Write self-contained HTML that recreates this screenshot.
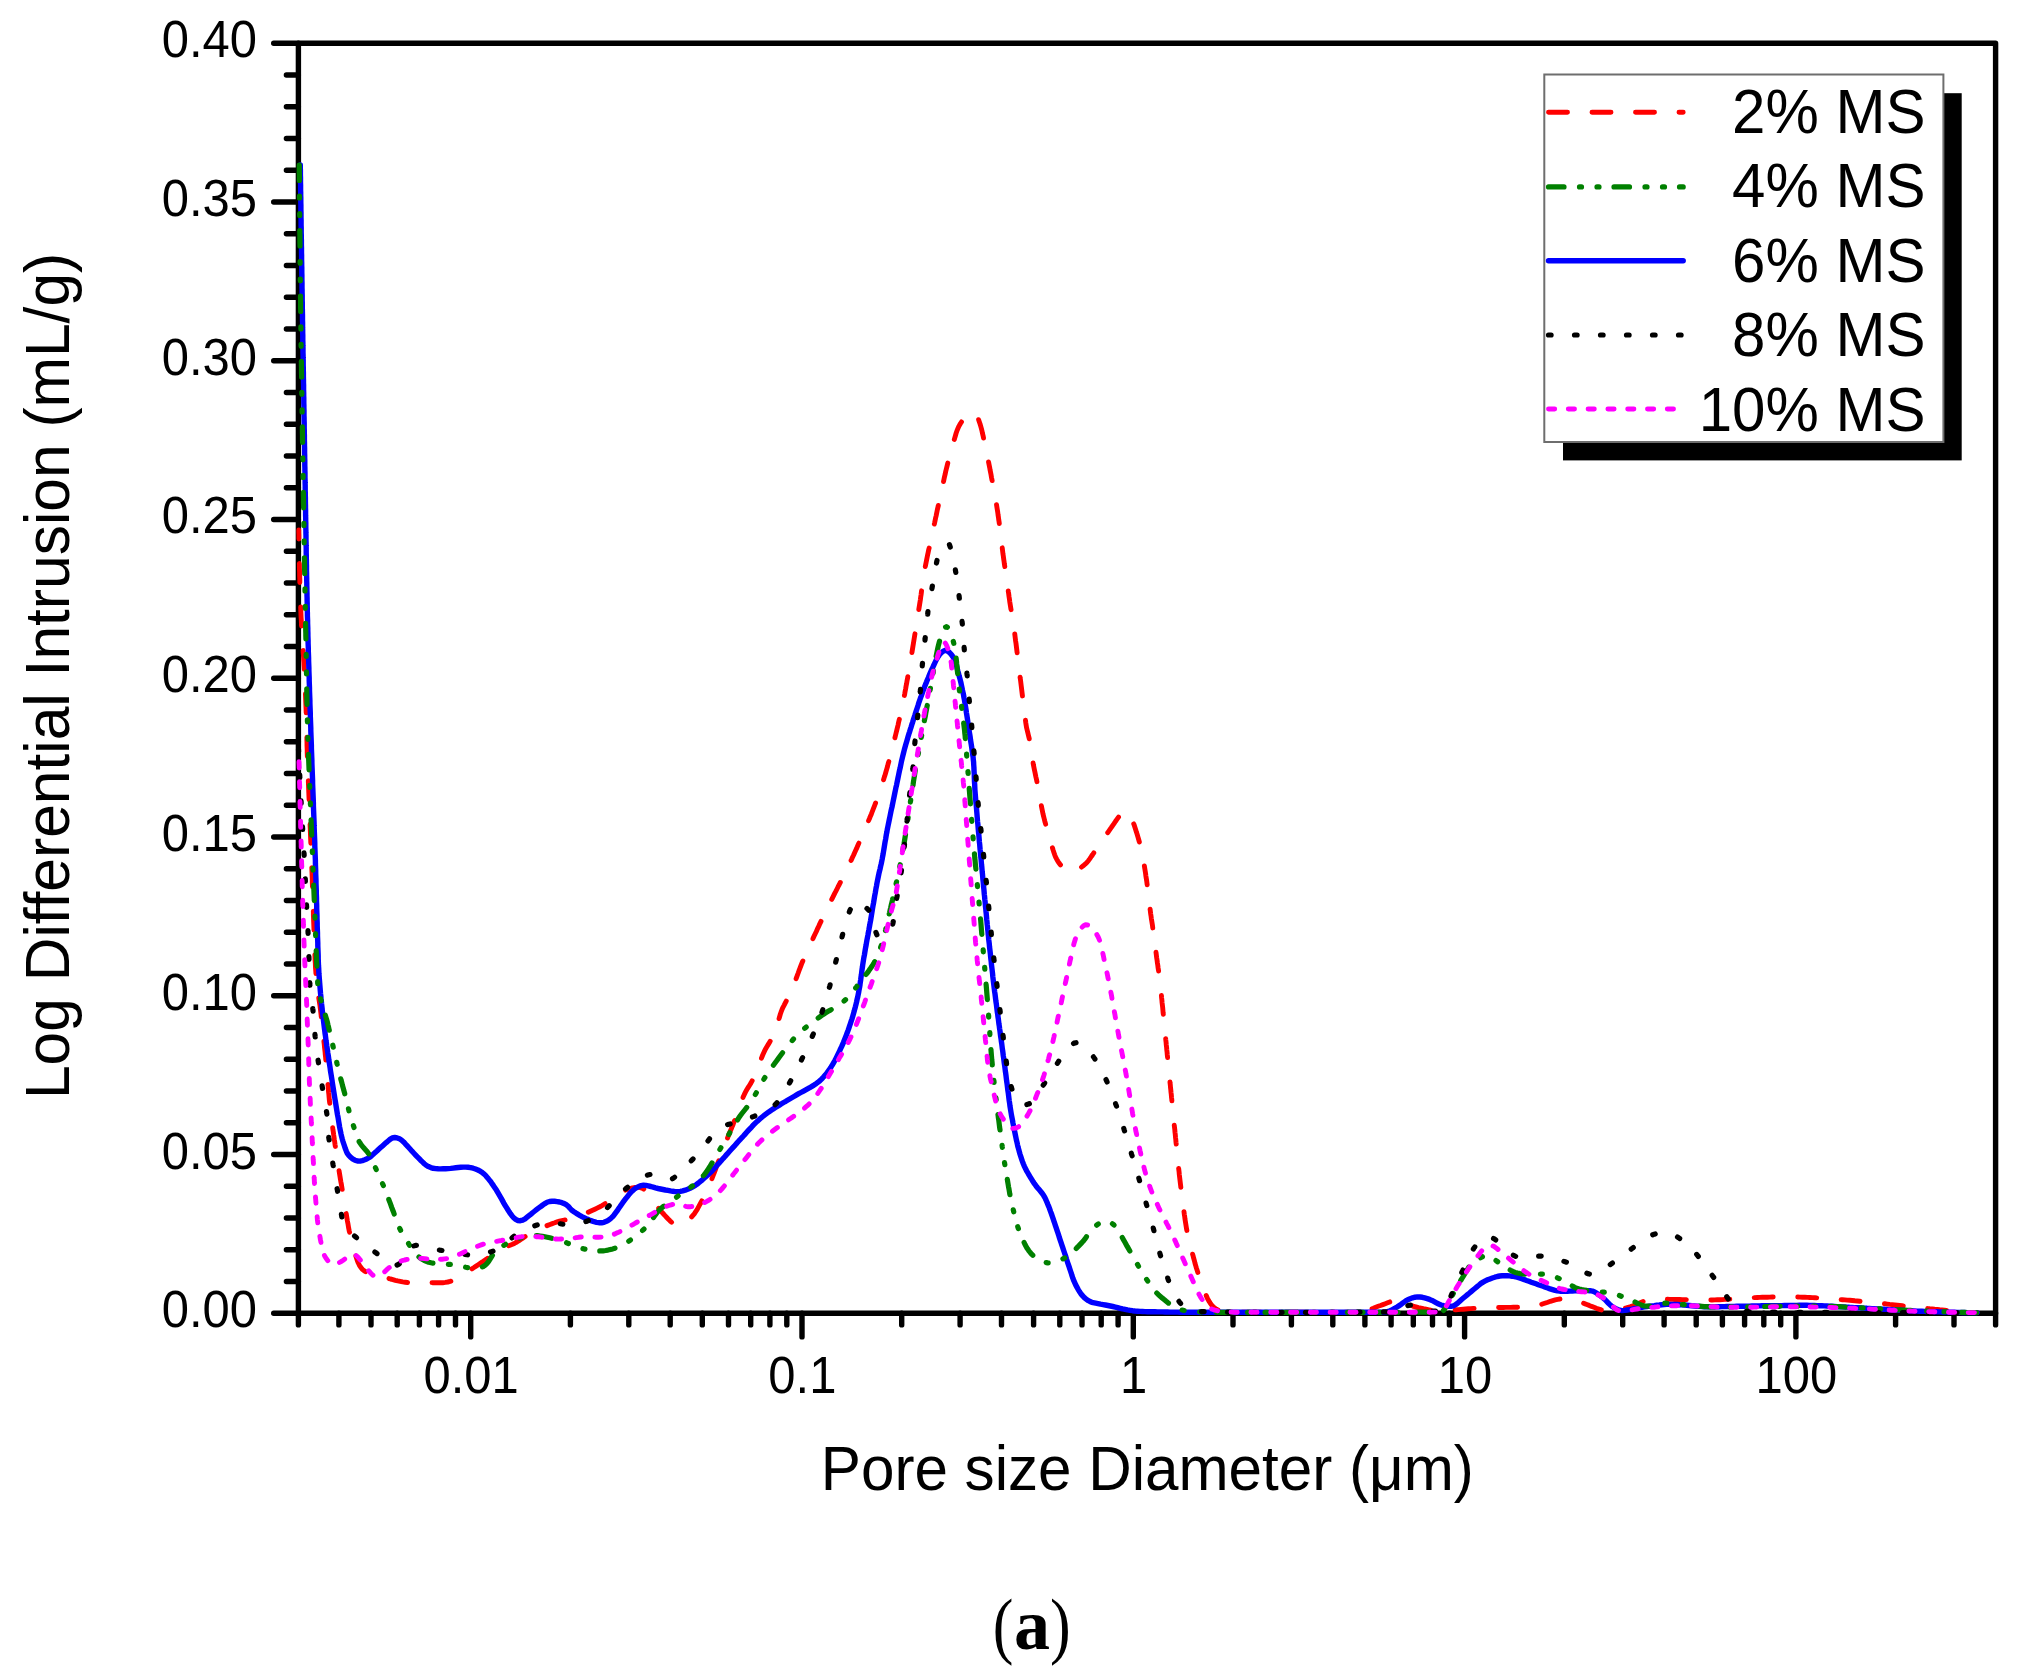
<!DOCTYPE html>
<html lang="en"><head><meta charset="utf-8"><title>Pore size distribution (a)</title>
<style>html,body{margin:0;padding:0;background:#fff}svg{display:block;filter:blur(0.55px)}text{font-family:"Liberation Sans", Arial, Helvetica, sans-serif;fill:#000}text.cap{font-family:"Liberation Serif", "Times New Roman", serif}.ax{stroke:#000;fill:none;stroke-linecap:round;stroke-linejoin:round}.cv{fill:none;stroke-linecap:round;stroke-linejoin:round}</style></head><body>
<svg width="2025" height="1677" viewBox="0 0 2025 1677">
<rect width="2025" height="1677" fill="#fff"/>
<g class="ax" stroke-width="5.4">
<path d="M298.4,43.25 H1995.6 V1313.3 H298.4 Z"/>
<path d="M273.7,1313.3H298.4M286.4,1281.5H298.4M286.4,1249.8H298.4M286.4,1218H298.4M286.4,1186.3H298.4M273.7,1154.5H298.4M286.4,1122.8H298.4M286.4,1091H298.4M286.4,1059.3H298.4M286.4,1027.5H298.4M273.7,995.8H298.4M286.4,964H298.4M286.4,932.3H298.4M286.4,900.5H298.4M286.4,868.8H298.4M273.7,837H298.4M286.4,805.3H298.4M286.4,773.5H298.4M286.4,741.8H298.4M286.4,710H298.4M273.7,678.3H298.4M286.4,646.5H298.4M286.4,614.8H298.4M286.4,583H298.4M286.4,551.3H298.4M273.7,519.5H298.4M286.4,487.8H298.4M286.4,456H298.4M286.4,424.3H298.4M286.4,392.5H298.4M273.7,360.8H298.4M286.4,329H298.4M286.4,297.3H298.4M286.4,265.5H298.4M286.4,233.8H298.4M273.7,202H298.4M286.4,170.3H298.4M286.4,138.5H298.4M286.4,106.8H298.4M286.4,75H298.4M273.7,43.2H298.4M298.4,1313.3V1324.9M338.9,1313.3V1324.9M371,1313.3V1324.9M397.2,1313.3V1324.9M419.4,1313.3V1324.9M438.6,1313.3V1324.9M455.5,1313.3V1324.9M470.7,1313.3V1336.9M570.4,1313.3V1324.9M628.8,1313.3V1324.9M670.2,1313.3V1324.9M702.3,1313.3V1324.9M728.5,1313.3V1324.9M750.7,1313.3V1324.9M769.9,1313.3V1324.9M786.8,1313.3V1324.9M802,1313.3V1336.9M901.7,1313.3V1324.9M960.1,1313.3V1324.9M1001.5,1313.3V1324.9M1033.6,1313.3V1324.9M1059.8,1313.3V1324.9M1082,1313.3V1324.9M1101.2,1313.3V1324.9M1118.1,1313.3V1324.9M1133.3,1313.3V1336.9M1233,1313.3V1324.9M1291.4,1313.3V1324.9M1332.8,1313.3V1324.9M1364.9,1313.3V1324.9M1391.1,1313.3V1324.9M1413.3,1313.3V1324.9M1432.5,1313.3V1324.9M1449.4,1313.3V1324.9M1464.6,1313.3V1336.9M1564.3,1313.3V1324.9M1622.7,1313.3V1324.9M1664.1,1313.3V1324.9M1696.2,1313.3V1324.9M1722.4,1313.3V1324.9M1744.6,1313.3V1324.9M1763.8,1313.3V1324.9M1780.7,1313.3V1324.9M1795.9,1313.3V1336.9M1895.6,1313.3V1324.9M1954,1313.3V1324.9M1995.6,1313.3V1324.9"/>
</g>
<clipPath id="pc"><rect x="294.4" y="43.25" width="1701.1999999999998" height="1273.05"/></clipPath>
<g class="cv" clip-path="url(#pc)">
<path stroke="#ff0000" stroke-width="4.9" stroke-dasharray="19 24.5" stroke-dashoffset="10" d="M298.8,530 298.8,532.5 298.9,535 298.9,537.5 298.9,540 299,542.5 299,545 299,547.5 299.1,550 299.1,552.5 299.2,555 299.2,557.5 299.3,560 299.3,562.5 299.4,565 299.4,567.6 299.5,570.1 299.6,572.6 299.6,575.1 299.7,577.6 299.8,580.1 299.8,582.6 299.9,585.1 300,587.6 300.1,590.1 300.1,592.6 300.2,595.1 300.3,597.6 300.4,600.1 300.5,602.6 300.6,605.1 300.7,607.6 300.8,610.1 300.9,612.6 301,615.1 301.1,617.6 301.3,620.1 301.4,622.6 301.5,625.1 301.6,627.6 301.8,630.1 301.9,632.6 302.1,635.1 302.2,637.6 302.4,640.1 302.6,642.6 302.7,645.1 302.9,647.6 303.1,650.1 303.2,652.6 303.4,655.1 303.6,657.6 303.7,660.1 303.9,662.6 304,665.1 304.2,667.6 304.3,670.1 304.4,672.6 304.6,675.1 304.7,677.6 304.8,680.1 304.9,682.6 305,685.1 305.2,687.6 305.3,690.1 305.4,692.6 305.5,695.1 305.6,697.6 305.7,700.1 305.8,702.6 305.9,705.1 306,707.6 306.1,710.1 306.2,712.6 306.3,715.1 306.4,717.6 306.5,720.1 306.5,722.6 306.6,725.1 306.7,727.6 306.7,730.1 306.8,732.6 306.8,735.1 306.9,737.6 306.9,740.1 307,742.6 307,745.1 307.1,747.6 307.2,750.1 307.2,752.6 307.3,755.1 307.4,757.6 307.5,760.1 307.6,762.6 307.7,765.1 307.8,767.6 307.9,770.1 308,772.6 308.1,775.1 308.2,777.6 308.3,780.1 308.4,782.6 308.5,785.1 308.6,787.6 308.7,790.1 308.8,792.6 308.9,795.1 309,797.6 309.1,800.1 309.2,802.6 309.3,805.1 309.4,807.6 309.5,810.1 309.6,812.6 309.7,815.1 309.8,817.6 309.9,820.1 310,822.6 310.1,825.1 310.2,827.6 310.3,830.1 310.4,832.6 310.5,835.1 310.6,837.6 310.7,840.1 310.8,842.6 310.9,845.1 311,847.7 311.1,850.2 311.2,852.7 311.3,855.2 311.4,857.7 311.5,860.2 311.6,862.7 311.7,865.2 311.8,867.7 311.9,870.2 312,872.7 312.1,875.2 312.2,877.7 312.3,880.2 312.3,882.7 312.4,885.2 312.5,887.7 312.6,890.2 312.7,892.7 312.8,895.2 312.9,897.7 312.9,900.2 313,902.7 313.1,905.2 313.2,907.7 313.3,910.2 313.4,912.7 313.4,915.2 313.5,917.7 313.6,920.2 313.7,922.7 313.8,925.2 313.9,927.7 314,930.2 314,932.7 314.1,935.2 314.2,937.7 314.3,940.2 314.4,942.7 314.5,945.2 314.6,947.7 314.7,950.2 314.8,952.7 314.9,955.2 315,957.7 315.1,960.2 315.3,962.7 315.4,965.2 315.5,967.7 315.7,970.2 315.9,972.7 316,975.2 316.2,977.7 316.4,980.2 316.7,982.7 316.9,985.2 317.2,987.7 317.6,990.2 318,992.6 318.3,995.1 318.7,997.6 319.1,1000 319.5,1002.5 319.9,1005 320.2,1007.5 320.5,1010 320.8,1012.5 321.1,1014.9 321.3,1017.4 321.6,1019.9 321.9,1022.4 322.2,1024.9 322.4,1027.4 322.7,1029.9 323,1032.4 323.2,1034.8 323.5,1037.3 323.8,1039.8 324,1042.3 324.3,1044.8 324.5,1047.3 324.8,1049.8 325.1,1052.3 325.3,1054.8 325.6,1057.3 325.8,1059.7 326,1062.2 326.3,1064.7 326.5,1067.2 326.7,1069.7 326.9,1072.2 327.1,1074.7 327.4,1077.2 327.6,1079.7 327.8,1082.2 328,1084.7 328.2,1087.2 328.4,1089.7 328.6,1092.2 328.9,1094.7 329.1,1097.2 329.3,1099.6 329.6,1102.1 329.9,1104.6 330.1,1107.1 330.4,1109.6 330.7,1112.1 331,1114.6 331.3,1117.1 331.6,1119.5 331.9,1122 332.3,1124.5 332.6,1127 332.9,1129.5 333.3,1131.9 333.6,1134.4 334,1136.9 334.3,1139.4 334.7,1141.9 335,1144.3 335.4,1146.8 335.8,1149.3 336.2,1151.8 336.5,1154.2 336.9,1156.7 337.3,1159.2 337.6,1161.7 338,1164.1 338.4,1166.6 338.8,1169.1 339.2,1171.6 339.6,1174 340,1176.5 340.4,1179 340.8,1181.4 341.3,1183.9 341.7,1186.4 342.1,1188.8 342.5,1191.3 342.9,1193.8 343.3,1196.2 343.7,1198.7 344.1,1201.2 344.6,1203.7 345,1206.1 345.4,1208.6 345.8,1211.1 346.2,1213.5 346.6,1216 347,1218.5 347.4,1220.9 347.9,1223.4 348.3,1225.9 348.7,1228.3 349.2,1230.8 349.8,1233.2 350.4,1235.6 351,1238.1 351.7,1240.5 352.4,1242.9 353,1245.3 353.7,1247.7 354.4,1250.2 355.1,1252.8 355.7,1255.4 356.5,1258 357.3,1260.5 358.3,1263 359.4,1265.3 360.8,1267.4 362.4,1269.3 364.3,1270.9 366.4,1272.2 368.8,1273.2 371.2,1273.9 373.6,1274.6 376,1275.2 378.5,1275.7 380.9,1276.3 383.3,1277 385.7,1277.6 388.1,1278.3 390.5,1279 392.9,1279.6 395.3,1280.3 397.8,1280.9 400.2,1281.4 402.7,1281.9 405.2,1282.2 407.7,1282.5 410.2,1282.6 412.7,1282.7 415.2,1282.7 417.7,1282.6 420.2,1282.6 422.7,1282.5 425.2,1282.5 427.7,1282.5 430.2,1282.6 432.7,1282.7 435.2,1282.8 437.7,1282.8 440.3,1282.8 442.8,1282.7 445.3,1282.4 447.8,1282 450.2,1281.4 452.6,1280.6 454.9,1279.6 457.2,1278.5 459.3,1277.2 461.5,1275.9 463.6,1274.5 465.7,1273.1 467.8,1271.7 469.9,1270.2 471.9,1268.8 474,1267.5 476.1,1266.1 478.2,1264.7 480.3,1263.3 482.4,1261.9 484.4,1260.5 486.5,1259.1 488.5,1257.6 490.6,1256.1 492.6,1254.7 494.6,1253.2 496.6,1251.7 498.7,1250.3 500.8,1249 503,1247.9 505.4,1246.9 507.7,1246.1 510.1,1245.2 512.5,1244.3 514.7,1243.2 516.9,1242 519,1240.7 521.1,1239.3 523.1,1237.9 525.2,1236.5 527.3,1235.1 529.5,1233.8 531.7,1232.6 533.9,1231.4 536.2,1230.3 538.4,1229.3 540.7,1228.2 543,1227.2 545.3,1226.3 547.6,1225.4 550,1224.5 552.3,1223.6 554.7,1222.8 557.1,1221.9 559.5,1221.2 561.9,1220.6 564.3,1220.1 566.8,1219.6 569.2,1219.1 571.7,1218.5 574.1,1217.9 576.5,1217.1 578.8,1216.2 581.2,1215.3 583.5,1214.4 585.8,1213.4 588.1,1212.4 590.4,1211.3 592.6,1210.3 594.9,1209.2 597.1,1208.1 599.4,1207 601.6,1205.8 603.7,1204.5 605.9,1203.2 607.9,1201.7 610,1200.3 612,1198.8 614,1197.3 616,1195.8 618.1,1194.4 620.2,1193 622.3,1191.7 624.6,1190.5 627.1,1189.4 629.8,1188.5 632.5,1187.8 635.2,1187.4 637.9,1187.3 640.4,1187.6 642.7,1188.4 644.8,1189.7 646.6,1191.4 648.3,1193.2 649.8,1195.1 651.3,1197.2 652.7,1199.3 654,1201.4 655.4,1203.5 656.8,1205.7 658.2,1207.7 659.7,1209.7 661.4,1211.6 663.1,1213.5 664.8,1215.4 666.5,1217.2 668.2,1219 670,1220.8 671.9,1222.5 673.8,1224.1 675.8,1225.5 678.3,1226 681,1225.6 683.5,1224.4 685.5,1222.8 687.5,1221.1 689.3,1219.4 691.1,1217.6 692.7,1215.7 694.3,1213.8 695.7,1211.7 697.1,1209.6 698.3,1207.4 699.5,1205.2 700.7,1203 701.9,1200.8 703.1,1198.5 704.2,1196.3 705.3,1194.1 706.4,1191.8 707.5,1189.6 708.5,1187.3 709.5,1185 710.4,1182.7 711.3,1180.4 712.2,1178 713.1,1175.7 714,1173.3 714.9,1171 715.8,1168.7 716.6,1166.3 717.5,1164 718.4,1161.6 719.3,1159.3 720.2,1156.9 721,1154.6 721.9,1152.3 722.8,1149.9 723.7,1147.6 724.6,1145.2 725.5,1142.9 726.4,1140.6 727.4,1138.3 728.3,1135.9 729.3,1133.6 730.2,1131.3 731.2,1129 732.1,1126.7 733.1,1124.4 734,1122 735,1119.7 735.9,1117.4 736.8,1115.1 737.6,1112.7 738.4,1110.3 739.2,1108 740.1,1105.6 740.9,1103.2 741.7,1100.9 742.6,1098.5 743.5,1096.2 744.6,1093.9 745.7,1091.7 746.9,1089.5 748.2,1087.4 749.6,1085.2 750.9,1083.1 752.1,1080.9 753.3,1078.7 754.4,1076.5 755.4,1074.2 756.4,1071.9 757.3,1069.6 758.2,1067.2 759,1064.8 759.9,1062.5 760.7,1060.1 761.6,1057.8 762.5,1055.5 763.5,1053.2 764.6,1050.9 765.7,1048.7 767,1046.5 768.3,1044.4 769.6,1042.2 770.9,1040.1 772.1,1037.9 773.3,1035.7 774.4,1033.4 775.4,1031.1 776.2,1028.8 776.9,1026.4 777.6,1024 778.3,1021.5 778.9,1019.1 779.6,1016.7 780.3,1014.3 781.1,1011.9 782,1009.6 783,1007.3 784.2,1005.1 785.3,1002.9 786.5,1000.6 787.7,998.4 788.8,996.2 790,994 791,991.7 792,989.4 793,987.1 793.9,984.8 794.8,982.4 795.6,980.1 796.5,977.7 797.3,975.4 798.2,973 799,970.7 799.9,968.3 800.8,966 801.7,963.7 802.7,961.3 803.7,959.1 804.7,956.8 805.8,954.5 806.8,952.2 807.8,949.9 808.8,947.6 809.9,945.4 810.9,943.1 812,940.8 813,938.5 814,936.3 815.1,934 816.2,931.7 817.2,929.4 818.3,927.2 819.3,924.9 820.4,922.6 821.5,920.4 822.6,918.1 823.6,915.9 824.7,913.6 825.8,911.4 826.9,909.1 828,906.9 829.1,904.6 830.2,902.4 831.4,900.1 832.5,897.9 833.6,895.7 834.7,893.4 835.9,891.2 837,889 838.1,886.7 839.3,884.5 840.4,882.3 841.5,880 842.6,877.8 843.8,875.5 844.9,873.3 846,871.1 847.1,868.8 848.1,866.5 849.2,864.3 850.3,862 851.4,859.8 852.4,857.5 853.5,855.2 854.5,852.9 855.5,850.7 856.6,848.4 857.6,846.1 858.6,843.8 859.6,841.5 860.6,839.2 861.6,836.9 862.6,834.6 863.6,832.3 864.6,830 865.6,827.7 866.6,825.4 867.6,823.1 868.5,820.8 869.5,818.5 870.4,816.2 871.4,813.9 872.3,811.5 873.2,809.2 874.1,806.9 875,804.5 875.9,802.2 876.8,799.8 877.6,797.5 878.4,795.1 879.3,792.8 880.1,790.4 880.9,788 881.7,785.6 882.4,783.3 883.2,780.9 883.9,778.5 884.7,776.1 885.4,773.7 886.1,771.3 886.8,768.9 887.5,766.5 888.1,764 888.8,761.6 889.5,759.2 890.1,756.8 890.7,754.4 891.4,752 892,749.5 892.6,747.1 893.2,744.7 893.8,742.3 894.4,739.8 895,737.4 895.6,735 896.2,732.5 896.8,730.1 897.4,727.7 898,725.2 898.5,722.8 899.1,720.3 899.7,717.9 900.3,715.5 900.8,713 901.3,710.6 901.9,708.1 902.4,705.7 902.9,703.2 903.4,700.8 903.9,698.3 904.3,695.9 904.8,693.4 905.2,690.9 905.7,688.5 906.1,686 906.6,683.6 907,681.1 907.5,678.6 907.9,676.2 908.3,673.7 908.8,671.2 909.2,668.8 909.6,666.3 910,663.8 910.4,661.4 910.8,658.9 911.3,656.4 911.7,653.9 912.1,651.5 912.5,649 912.9,646.5 913.3,644.1 913.7,641.6 914.1,639.1 914.5,636.7 914.9,634.2 915.3,631.7 915.7,629.2 916.1,626.8 916.5,624.3 916.9,621.8 917.3,619.4 917.7,616.9 918.1,614.4 918.5,611.9 918.8,609.5 919.2,607 919.6,604.5 920,602 920.4,599.6 920.7,597.1 921.1,594.6 921.4,592.1 921.7,589.6 922.1,587.2 922.4,584.7 922.8,582.2 923.1,579.7 923.5,577.3 923.9,574.8 924.3,572.3 924.7,569.8 925.1,567.4 925.6,564.9 926.1,562.5 926.6,560 927.1,557.6 927.6,555.1 928.1,552.7 928.6,550.2 929.2,547.8 929.7,545.3 930.2,542.9 930.7,540.4 931.3,538 931.8,535.5 932.3,533.1 932.9,530.6 933.4,528.2 933.9,525.7 934.5,523.3 935,520.9 935.5,518.4 936.1,516 936.6,513.5 937.1,511.1 937.6,508.6 938.2,506.2 938.7,503.7 939.2,501.3 939.8,498.8 940.3,496.4 940.8,493.9 941.4,491.5 941.9,489 942.4,486.6 943,484.2 943.5,481.7 944,479.3 944.5,476.8 945.1,474.4 945.6,471.9 946.2,469.5 946.8,467.1 947.4,464.6 948,462.2 948.6,459.8 949.2,457.4 949.9,455 950.5,452.6 951.2,450.2 951.9,447.7 952.6,445.3 953.3,442.9 954,440.5 954.7,438.1 955.4,435.7 956.1,433.3 956.9,430.9 957.9,428.5 959,426.1 960.3,423.8 961.7,421.6 963.2,419.5 964.8,417.5 966.4,415.6 968,414 969.8,412.8 972.3,413 975,414.4 977.2,416.6 978.4,419 979.2,421.4 980,423.7 980.7,426.1 981.4,428.6 982,431 982.5,433.4 983.1,435.8 983.6,438.3 984.1,440.7 984.6,443.2 985.1,445.6 985.6,448.1 986.2,450.5 986.7,453 987.2,455.4 987.7,457.9 988.2,460.3 988.7,462.8 989.2,465.2 989.7,467.7 990.1,470.1 990.6,472.6 991.1,475.1 991.5,477.5 992,480 992.5,482.4 992.9,484.9 993.4,487.4 993.9,489.8 994.3,492.3 994.8,494.7 995.2,497.2 995.6,499.7 996.1,502.1 996.5,504.6 996.9,507.1 997.3,509.6 997.7,512 998,514.5 998.4,517 998.7,519.5 999.1,521.9 999.4,524.4 999.7,526.9 1000,529.4 1000.3,531.9 1000.6,534.4 1000.9,536.9 1001.2,539.3 1001.5,541.8 1001.8,544.3 1002.1,546.8 1002.4,549.3 1002.7,551.8 1003,554.2 1003.4,556.7 1003.7,559.2 1004.1,561.7 1004.4,564.2 1004.8,566.6 1005.1,569.1 1005.5,571.6 1005.8,574.1 1006.2,576.6 1006.5,579 1006.9,581.5 1007.2,584 1007.6,586.5 1008,588.9 1008.3,591.4 1008.7,593.9 1009,596.4 1009.4,598.9 1009.7,601.3 1010.1,603.8 1010.5,606.3 1010.9,608.8 1011.3,611.2 1011.7,613.7 1012.1,616.2 1012.4,618.6 1012.8,621.1 1013.2,623.6 1013.6,626.1 1014,628.5 1014.3,631 1014.7,633.5 1015,636 1015.3,638.5 1015.6,640.9 1016,643.4 1016.3,645.9 1016.6,648.4 1016.9,650.9 1017.2,653.4 1017.5,655.8 1017.8,658.3 1018.1,660.8 1018.4,663.3 1018.7,665.8 1019,668.3 1019.3,670.8 1019.6,673.2 1019.9,675.7 1020.2,678.2 1020.6,680.7 1020.9,683.2 1021.2,685.7 1021.5,688.1 1021.8,690.6 1022.1,693.1 1022.4,695.6 1022.7,698.1 1023,700.6 1023.3,703 1023.6,705.5 1023.9,708 1024.3,710.5 1024.6,713 1024.9,715.5 1025.2,718 1025.5,720.4 1025.8,722.9 1026.2,725.4 1026.6,727.8 1027.2,730.3 1027.8,732.7 1028.4,735.2 1029,737.6 1029.5,740 1030,742.5 1030.4,745 1030.8,747.4 1031.2,749.9 1031.5,752.4 1031.9,754.9 1032.2,757.4 1032.6,759.8 1033,762.3 1033.4,764.8 1033.9,767.2 1034.4,769.7 1034.9,772.1 1035.4,774.6 1035.9,777 1036.5,779.5 1037,781.9 1037.5,784.4 1038,786.8 1038.4,789.3 1038.9,791.8 1039.3,794.2 1039.7,796.7 1040.2,799.2 1040.6,801.6 1041,804.1 1041.5,806.5 1042,809 1042.5,811.5 1043,813.9 1043.6,816.3 1044.2,818.8 1044.8,821.2 1045.5,823.6 1046.1,826 1046.7,828.4 1047.4,830.9 1048,833.3 1048.7,835.7 1049.4,838.1 1050.1,840.5 1050.8,842.9 1051.6,845.3 1052.4,847.7 1053.1,850 1053.9,852.4 1054.7,854.8 1055.6,857.1 1056.7,859.2 1057.9,861.3 1059.3,863.4 1061,865.4 1063,867.4 1065.2,869.2 1067.4,870.6 1069.7,871.5 1071.9,871.7 1074.3,871.2 1076.6,870.2 1078.9,868.9 1081.1,867.4 1083.2,865.8 1085.1,864.2 1086.9,862.5 1088.4,860.7 1089.9,858.6 1091.3,856.5 1092.7,854.5 1094.1,852.4 1095.6,850.4 1097,848.3 1098.4,846.2 1099.8,844.2 1101.2,842.1 1102.7,840.1 1104.1,838 1105.5,835.9 1106.9,833.9 1108.3,831.8 1109.8,829.7 1111.2,827.7 1112.6,825.6 1114,823.6 1115.4,821.5 1116.9,819.4 1118.3,817.4 1119.9,815.2 1122.2,813 1124.7,811.6 1126.8,811.8 1128.3,813.5 1129.7,815.5 1130.9,817.6 1132.1,820 1133.1,822.4 1134.1,824.8 1134.9,827.3 1135.7,829.7 1136.4,832.1 1137.2,834.5 1137.9,836.9 1138.6,839.3 1139.3,841.7 1139.9,844.1 1140.5,846.5 1141,849 1141.5,851.4 1142,853.9 1142.5,856.3 1143,858.8 1143.5,861.2 1144,863.7 1144.4,866.2 1144.8,868.6 1145.2,871.1 1145.6,873.6 1145.9,876.1 1146.3,878.5 1146.7,881 1147,883.5 1147.3,886 1147.7,888.4 1148,890.9 1148.3,893.4 1148.6,895.9 1148.9,898.4 1149.2,900.9 1149.5,903.4 1149.8,905.8 1150,908.3 1150.3,910.8 1150.6,913.3 1151,915.8 1151.3,918.3 1151.7,920.7 1152.1,923.2 1152.5,925.7 1152.8,928.2 1153.2,930.6 1153.6,933.1 1153.9,935.6 1154.2,938.1 1154.6,940.6 1154.9,943 1155.2,945.5 1155.5,948 1155.8,950.5 1156.1,953 1156.4,955.5 1156.7,957.9 1157.1,960.4 1157.4,962.9 1157.8,965.4 1158.1,967.9 1158.5,970.3 1158.8,972.8 1159.1,975.3 1159.5,977.8 1159.8,980.3 1160.1,982.8 1160.3,985.2 1160.6,987.7 1160.9,990.2 1161.1,992.7 1161.4,995.2 1161.6,997.7 1161.9,1000.2 1162.1,1002.7 1162.4,1005.2 1162.7,1007.7 1162.9,1010.1 1163.1,1012.6 1163.4,1015.1 1163.6,1017.6 1163.9,1020.1 1164.1,1022.6 1164.4,1025.1 1164.6,1027.6 1164.9,1030.1 1165.1,1032.6 1165.4,1035.1 1165.6,1037.5 1165.8,1040 1166.1,1042.5 1166.3,1045 1166.6,1047.5 1166.8,1050 1167.1,1052.5 1167.3,1055 1167.6,1057.5 1167.8,1060 1168.1,1062.5 1168.3,1064.9 1168.6,1067.4 1168.8,1069.9 1169.1,1072.4 1169.3,1074.9 1169.5,1077.4 1169.8,1079.9 1170,1082.4 1170.3,1084.9 1170.5,1087.4 1170.8,1089.9 1171,1092.3 1171.3,1094.8 1171.5,1097.3 1171.8,1099.8 1172,1102.3 1172.3,1104.8 1172.5,1107.3 1172.8,1109.8 1173,1112.3 1173.3,1114.8 1173.5,1117.3 1173.7,1119.7 1174,1122.2 1174.2,1124.7 1174.5,1127.2 1174.8,1129.7 1175,1132.2 1175.3,1134.7 1175.5,1137.2 1175.8,1139.7 1176,1142.2 1176.3,1144.7 1176.5,1147.1 1176.8,1149.6 1177,1152.1 1177.3,1154.6 1177.5,1157.1 1177.8,1159.6 1178,1162.1 1178.3,1164.6 1178.5,1167.1 1178.8,1169.6 1179.1,1172 1179.3,1174.5 1179.6,1177 1179.9,1179.5 1180.2,1182 1180.5,1184.5 1180.8,1187 1181.1,1189.4 1181.4,1191.9 1181.7,1194.4 1182,1196.9 1182.3,1199.4 1182.6,1201.9 1183,1204.3 1183.3,1206.8 1183.6,1209.3 1184,1211.8 1184.3,1214.3 1184.7,1216.7 1185,1219.2 1185.4,1221.7 1185.8,1224.2 1186.2,1226.7 1186.6,1229.1 1187.1,1231.6 1187.6,1234 1188.1,1236.5 1188.7,1238.9 1189.3,1241.3 1189.9,1243.8 1190.5,1246.2 1191.1,1248.6 1191.8,1251 1192.4,1253.5 1193.1,1255.9 1193.7,1258.3 1194.4,1260.7 1195,1263.2 1195.7,1265.6 1196.4,1268 1197.2,1270.4 1197.9,1272.7 1198.7,1275.1 1199.5,1277.5 1200.4,1279.8 1201.2,1282.2 1202.1,1284.5 1203,1286.9 1203.8,1289.3 1204.7,1291.6 1205.6,1294 1206.5,1296.3 1207.6,1298.6 1208.8,1300.9 1210.3,1303.2 1212,1305.4 1214,1307.4 1216.3,1309.1 1218.7,1310.4 1221.1,1311.3 1223.6,1311.9 1226.1,1312.2 1228.6,1312.3 1231.1,1312.3 1233.6,1312.3 1236.1,1312.3 1238.6,1312.3 1241.1,1312.3 1243.6,1312.3 1246.1,1312.3 1248.6,1312.3 1251.1,1312.3 1253.6,1312.3 1256.1,1312.3 1258.6,1312.3 1261.1,1312.3 1263.6,1312.3 1266.1,1312.3 1268.6,1312.3 1271.1,1312.3 1273.6,1312.3 1276.1,1312.3 1278.6,1312.3 1281.1,1312.3 1283.6,1312.3 1286.1,1312.3 1288.6,1312.3 1291.1,1312.3 1293.6,1312.3 1296.1,1312.3 1298.6,1312.3 1301.1,1312.3 1303.6,1312.3 1306.1,1312.3 1308.6,1312.3 1311.2,1312.3 1313.7,1312.3 1316.2,1312.4 1318.7,1312.4 1321.2,1312.4 1323.7,1312.4 1326.2,1312.4 1328.7,1312.4 1331.2,1312.4 1333.7,1312.4 1336.2,1312.4 1338.7,1312.4 1341.2,1312.4 1343.7,1312.4 1346.2,1312.3 1348.7,1312.2 1351.2,1312.2 1353.7,1312.1 1356.2,1312 1358.7,1311.9 1361.2,1311.7 1363.7,1311.3 1366.1,1310.7 1368.5,1310 1370.9,1309.1 1373.3,1308.2 1375.7,1307.2 1378.1,1306.3 1380.5,1305.5 1382.9,1304.6 1385.3,1303.7 1387.6,1302.8 1390,1301.8 1392.4,1300.9 1394.8,1300.1 1397.2,1299.5 1399.5,1299.4 1401.9,1299.9 1404.2,1300.9 1406.5,1302.3 1408.8,1303.9 1411.2,1305.3 1413.6,1306.4 1416,1307 1418.5,1307.6 1420.9,1308.1 1423.4,1308.7 1425.9,1309.2 1428.3,1309.7 1430.8,1310.1 1433.3,1310.4 1435.8,1310.7 1438.3,1310.8 1440.8,1310.7 1443.3,1310.6 1445.8,1310.5 1448.3,1310.3 1450.8,1310.2 1453.3,1310 1455.8,1309.8 1458.3,1309.6 1460.8,1309.4 1463.3,1309.2 1465.8,1309 1468.3,1308.8 1470.8,1308.6 1473.3,1308.4 1475.8,1308.3 1478.3,1308.1 1480.8,1308 1483.3,1307.9 1485.8,1307.8 1488.3,1307.7 1490.8,1307.7 1493.3,1307.6 1495.8,1307.6 1498.3,1307.5 1500.8,1307.5 1503.3,1307.5 1505.8,1307.4 1508.3,1307.4 1510.8,1307.4 1513.3,1307.3 1515.8,1307.3 1518.3,1307.2 1520.9,1307.2 1523.4,1307.1 1525.9,1307 1528.4,1306.9 1530.9,1306.7 1533.3,1306.4 1535.8,1306 1538.2,1305.3 1540.7,1304.6 1543.1,1303.8 1545.5,1303 1547.9,1302.2 1550.4,1301.3 1552.8,1300.6 1555.2,1299.9 1557.6,1299.4 1560.1,1299 1562.6,1298.7 1565.1,1298.6 1567.6,1298.5 1570.1,1298.7 1572.6,1299 1575.1,1299.5 1577.5,1300.3 1579.8,1301.4 1582.1,1302.5 1584.4,1303.6 1586.8,1304.5 1589.2,1305.4 1591.6,1306.4 1594,1307.3 1596.4,1308.3 1598.9,1309.1 1601.3,1309.9 1603.7,1310.5 1606.2,1311 1608.6,1311.2 1611,1311.3 1613.5,1311.1 1615.9,1310.7 1618.4,1310.2 1620.9,1309.6 1623.3,1308.8 1625.8,1308.1 1628.2,1307.3 1630.7,1306.6 1633.1,1305.7 1635.5,1304.8 1637.8,1303.7 1640.2,1302.7 1642.6,1301.7 1644.9,1300.8 1647.3,1300.1 1649.8,1299.7 1652.3,1299.5 1654.8,1299.4 1657.3,1299.3 1659.8,1299.3 1662.3,1299.3 1664.8,1299.3 1667.3,1299.3 1669.8,1299.4 1672.3,1299.4 1674.8,1299.5 1677.3,1299.5 1679.8,1299.5 1682.3,1299.6 1684.8,1299.6 1687.3,1299.7 1689.8,1299.7 1692.3,1299.8 1694.8,1299.8 1697.3,1299.9 1699.8,1299.9 1702.3,1300 1704.8,1300 1707.3,1300 1709.8,1300 1712.3,1300 1714.8,1299.9 1717.3,1299.8 1719.8,1299.7 1722.3,1299.6 1724.8,1299.4 1727.3,1299.2 1729.8,1299.1 1732.3,1298.9 1734.8,1298.7 1737.3,1298.5 1739.8,1298.4 1742.3,1298.2 1744.8,1298 1747.3,1297.9 1749.8,1297.8 1752.3,1297.7 1754.8,1297.6 1757.3,1297.5 1759.8,1297.4 1762.3,1297.3 1764.8,1297.3 1767.3,1297.2 1769.8,1297.1 1772.3,1297 1774.8,1297 1777.3,1296.9 1779.9,1296.9 1782.4,1296.9 1784.9,1296.9 1787.4,1296.9 1789.9,1296.9 1792.4,1296.9 1794.9,1297 1797.4,1297 1799.9,1297.1 1802.4,1297.2 1804.9,1297.3 1807.4,1297.4 1809.9,1297.5 1812.4,1297.6 1814.9,1297.7 1817.4,1297.9 1819.9,1298 1822.4,1298.2 1824.9,1298.4 1827.4,1298.5 1829.9,1298.7 1832.4,1298.9 1834.9,1299.1 1837.4,1299.3 1839.9,1299.5 1842.4,1299.7 1844.9,1299.9 1847.3,1300.1 1849.8,1300.3 1852.3,1300.5 1854.8,1300.8 1857.3,1301 1859.8,1301.2 1862.3,1301.5 1864.8,1301.7 1867.3,1302 1869.8,1302.2 1872.3,1302.5 1874.8,1302.7 1877.3,1303 1879.8,1303.2 1882.3,1303.5 1884.7,1303.8 1887.2,1304.1 1889.7,1304.4 1892.2,1304.6 1894.7,1304.9 1897.2,1305.2 1899.7,1305.5 1902.2,1305.8 1904.7,1306.1 1907.2,1306.4 1909.6,1306.7 1912.1,1307 1914.6,1307.2 1917.1,1307.5 1919.6,1307.8 1922.1,1308 1924.6,1308.3 1927.1,1308.5 1929.6,1308.8 1932.1,1309 1934.6,1309.3 1937.1,1309.5 1939.6,1309.8 1942.1,1310 1944.5,1310.2 1947,1310.5 1949.5,1310.7 1952,1310.9 1954.5,1311.1 1957,1311.3 1959.5,1311.5 1962,1311.7 1964.5,1311.9 1967,1312.1 1969.5,1312.3 1972,1312.4 1974.5,1312.6 1977,1312.6"/>
<path stroke="#0000ff" stroke-width="5.4" d="M300.3,165 300.3,167.5 300.4,170 300.4,172.5 300.4,175 300.5,177.5 300.5,180 300.5,182.5 300.6,185 300.6,187.5 300.6,190 300.7,192.5 300.7,195 300.8,197.5 300.8,200 300.8,202.5 300.9,205 300.9,207.5 300.9,210.1 301,212.6 301,215.1 301,217.6 301.1,220.1 301.1,222.6 301.1,225.1 301.2,227.6 301.2,230.1 301.2,232.6 301.3,235.1 301.3,237.6 301.4,240.1 301.4,242.6 301.4,245.1 301.5,247.6 301.5,250.1 301.5,252.6 301.6,255.1 301.6,257.6 301.6,260.1 301.7,262.6 301.7,265.1 301.8,267.6 301.8,270.1 301.8,272.6 301.9,275.1 301.9,277.6 301.9,280.1 302,282.6 302,285.1 302,287.6 302.1,290.1 302.1,292.6 302.2,295.1 302.2,297.7 302.2,300.2 302.3,302.7 302.3,305.2 302.3,307.7 302.4,310.2 302.4,312.7 302.5,315.2 302.5,317.7 302.5,320.2 302.6,322.7 302.6,325.2 302.6,327.7 302.7,330.2 302.7,332.7 302.8,335.2 302.8,337.7 302.8,340.2 302.9,342.7 302.9,345.2 303,347.7 303,350.2 303,352.7 303.1,355.2 303.1,357.7 303.2,360.2 303.2,362.7 303.2,365.2 303.3,367.7 303.3,370.2 303.4,372.7 303.4,375.2 303.4,377.7 303.5,380.2 303.5,382.7 303.6,385.2 303.6,387.8 303.6,390.3 303.7,392.8 303.7,395.3 303.8,397.8 303.8,400.3 303.8,402.8 303.9,405.3 303.9,407.8 304,410.3 304,412.8 304,415.3 304.1,417.8 304.1,420.3 304.2,422.8 304.2,425.3 304.2,427.8 304.3,430.3 304.3,432.8 304.4,435.3 304.4,437.8 304.4,440.3 304.5,442.8 304.5,445.3 304.6,447.8 304.6,450.3 304.6,452.8 304.7,455.3 304.7,457.8 304.8,460.3 304.8,462.8 304.8,465.3 304.9,467.8 304.9,470.3 305,472.8 305,475.3 305,477.9 305.1,480.4 305.1,482.9 305.2,485.4 305.2,487.9 305.2,490.4 305.3,492.9 305.3,495.4 305.4,497.9 305.4,500.4 305.4,502.9 305.5,505.4 305.5,507.9 305.6,510.4 305.6,512.9 305.6,515.4 305.7,517.9 305.7,520.4 305.8,522.9 305.8,525.4 305.8,527.9 305.9,530.4 305.9,532.9 306,535.4 306,537.9 306,540.4 306.1,542.9 306.1,545.4 306.2,547.9 306.2,550.4 306.2,552.9 306.3,555.4 306.3,557.9 306.4,560.4 306.4,562.9 306.5,565.4 306.5,568 306.5,570.5 306.6,573 306.6,575.5 306.7,578 306.7,580.5 306.8,583 306.8,585.5 306.9,588 306.9,590.5 307,593 307,595.5 307.1,598 307.1,600.5 307.2,603 307.2,605.5 307.3,608 307.3,610.5 307.4,613 307.4,615.5 307.5,618 307.6,620.5 307.6,623 307.7,625.5 307.8,628 307.8,630.5 307.9,633 307.9,635.5 308,638 308.1,640.5 308.1,643 308.2,645.5 308.3,648 308.3,650.5 308.4,653 308.5,655.5 308.6,658 308.6,660.5 308.7,663 308.8,665.5 308.9,668 308.9,670.5 309,673.1 309.1,675.6 309.2,678.1 309.2,680.6 309.3,683.1 309.4,685.6 309.5,688.1 309.5,690.6 309.6,693.1 309.7,695.6 309.8,698.1 309.9,700.6 309.9,703.1 310,705.6 310.1,708.1 310.2,710.6 310.3,713.1 310.3,715.6 310.4,718.1 310.5,720.6 310.6,723.1 310.7,725.6 310.8,728.1 310.8,730.6 310.9,733.1 311,735.6 311.1,738.1 311.2,740.6 311.3,743.1 311.4,745.6 311.4,748.1 311.5,750.6 311.6,753.1 311.7,755.6 311.8,758.1 311.9,760.6 311.9,763.1 312,765.6 312.1,768.1 312.2,770.6 312.3,773.1 312.4,775.6 312.5,778.1 312.6,780.6 312.6,783.1 312.7,785.6 312.8,788.1 312.9,790.6 313,793.1 313.1,795.6 313.2,798.1 313.3,800.6 313.4,803.1 313.4,805.6 313.5,808.1 313.6,810.6 313.7,813.1 313.8,815.6 313.9,818.1 314,820.6 314.1,823.2 314.1,825.7 314.2,828.2 314.3,830.7 314.4,833.2 314.5,835.7 314.6,838.2 314.7,840.7 314.8,843.2 314.8,845.7 314.9,848.2 315,850.7 315.1,853.2 315.2,855.7 315.3,858.2 315.4,860.7 315.4,863.2 315.5,865.7 315.6,868.2 315.7,870.7 315.7,873.2 315.8,875.7 315.9,878.2 316,880.7 316,883.2 316.1,885.7 316.2,888.2 316.3,890.7 316.3,893.2 316.4,895.7 316.5,898.2 316.5,900.7 316.6,903.2 316.7,905.7 316.7,908.2 316.8,910.7 316.9,913.2 317,915.7 317,918.2 317.1,920.7 317.2,923.2 317.2,925.7 317.3,928.2 317.4,930.7 317.5,933.2 317.5,935.7 317.6,938.2 317.7,940.7 317.8,943.2 317.8,945.7 317.9,948.2 318,950.7 318.1,953.2 318.2,955.8 318.2,958.3 318.3,960.8 318.4,963.3 318.5,965.8 318.7,968.3 318.8,970.8 318.9,973.3 319.1,975.8 319.3,978.2 319.5,980.7 319.7,983.2 319.9,985.7 320.1,988.2 320.3,990.7 320.5,993.2 320.8,995.7 321,998.2 321.3,1000.7 321.5,1003.2 321.8,1005.7 322.1,1008.2 322.3,1010.7 322.6,1013.1 322.9,1015.6 323.2,1018.1 323.5,1020.6 323.8,1023.1 324.1,1025.6 324.4,1028.1 324.7,1030.5 325,1033 325.4,1035.5 325.7,1038 326,1040.5 326.4,1042.9 326.7,1045.4 327.1,1047.9 327.5,1050.4 327.8,1052.9 328.2,1055.3 328.6,1057.8 328.9,1060.3 329.3,1062.8 329.7,1065.2 330.1,1067.7 330.4,1070.2 330.8,1072.7 331.2,1075.1 331.6,1077.6 332,1080.1 332.3,1082.5 332.7,1085 333.1,1087.5 333.5,1090 333.9,1092.4 334.3,1094.9 334.7,1097.4 335.1,1099.9 335.5,1102.3 335.9,1104.8 336.3,1107.3 336.7,1109.7 337.1,1112.2 337.5,1114.7 338,1117.1 338.4,1119.6 338.8,1122.1 339.2,1124.5 339.6,1127 340.1,1129.5 340.6,1131.9 341.1,1134.3 341.7,1136.8 342.3,1139.2 343,1141.6 343.8,1144 344.6,1146.4 345.4,1148.8 346.3,1151.1 347.3,1153.4 348.8,1155.4 350.5,1157.2 352.6,1158.9 354.9,1160.2 357.4,1161 360,1161.1 362.4,1160.6 364.8,1159.8 367.1,1158.8 369.3,1157.5 371.3,1156 373.2,1154.3 375,1152.6 376.9,1151 378.7,1149.3 380.6,1147.6 382.5,1145.9 384.3,1144.3 386.2,1142.6 388.1,1141 390,1139.4 392.2,1138 394.8,1137.5 397.2,1137.9 399.5,1138.8 401.7,1140.2 403.6,1141.9 405.3,1143.8 407,1145.6 408.7,1147.5 410.3,1149.3 412,1151.2 413.7,1153 415.4,1154.8 417.1,1156.6 418.9,1158.4 420.6,1160.2 422.4,1161.9 424.3,1163.7 426.2,1165.3 428.4,1166.6 430.8,1167.6 433.2,1168.3 435.7,1168.6 438.2,1168.8 440.7,1168.9 443.2,1168.8 445.7,1168.7 448.2,1168.6 450.7,1168.4 453.2,1168.1 455.7,1167.8 458.2,1167.5 460.7,1167.3 463.2,1167.1 465.7,1167.1 468.1,1167.3 470.6,1167.6 473.1,1168.2 475.5,1169 477.9,1170 480.2,1171.2 482.3,1172.6 484.2,1174.1 486,1175.9 487.7,1177.9 489.2,1179.8 490.8,1181.8 492.2,1183.9 493.6,1185.9 495,1188 496.4,1190.1 497.6,1192.2 498.9,1194.4 500.2,1196.6 501.4,1198.7 502.6,1200.9 503.8,1203.1 505.1,1205.3 506.4,1207.4 507.7,1209.5 509,1211.6 510.4,1213.7 511.9,1215.7 513.7,1217.7 515.7,1219.4 517.9,1220.5 520.3,1220.7 522.7,1220.1 525.1,1218.8 527.1,1217.2 529,1215.7 531,1214.1 532.9,1212.5 534.8,1211 536.8,1209.4 538.8,1207.9 540.8,1206.5 542.8,1205 544.9,1203.6 547.1,1202.3 549.6,1201.5 552.1,1201.2 554.6,1201.3 557.1,1201.6 559.5,1202 561.9,1202.7 564.3,1203.6 566.6,1204.9 568.5,1206.6 570.2,1208.5 571.9,1210.3 573.9,1211.7 576,1213.1 578.1,1214.4 580.2,1215.7 582.4,1216.9 584.7,1218 587,1219.1 589.3,1220.1 591.7,1220.9 594.1,1221.7 596.5,1222.3 598.9,1222.7 601.5,1222.8 604,1222.3 606.4,1221.3 608.6,1220.1 610.6,1218.6 612.4,1216.9 614.1,1214.9 615.6,1212.9 617.1,1210.9 618.5,1208.8 619.9,1206.8 621.3,1204.7 622.7,1202.7 624.2,1200.7 625.7,1198.7 627.2,1196.8 628.7,1194.9 630.2,1193 632,1191.2 634,1189.4 636.3,1187.8 638.7,1186.5 641.1,1185.6 643.5,1185.2 645.9,1185.4 648.3,1185.9 650.8,1186.5 653.2,1187.2 655.6,1187.9 658.1,1188.5 660.5,1189 663,1189.5 665.4,1190 667.9,1190.4 670.4,1190.9 672.8,1191.3 675.3,1191.6 677.8,1191.6 680.3,1191.4 682.7,1190.9 685.2,1190.2 687.7,1189.3 690,1188.3 692.3,1187.1 694.4,1185.9 696.5,1184.5 698.5,1183 700.4,1181.4 702.4,1179.8 704.3,1178.1 706.1,1176.5 708,1174.8 709.8,1173.1 711.6,1171.3 713.3,1169.5 715,1167.7 716.6,1165.8 718.3,1163.9 720,1162.1 721.6,1160.2 723.3,1158.3 725,1156.5 726.6,1154.6 728.3,1152.7 730,1150.8 731.6,1149 733.3,1147.1 735,1145.3 736.6,1143.4 738.3,1141.5 740,1139.7 741.7,1137.8 743.4,1136 745.1,1134.1 746.7,1132.3 748.4,1130.4 750.1,1128.6 751.8,1126.8 753.5,1124.9 755.3,1123.1 757.1,1121.4 759,1119.7 760.8,1118.1 762.8,1116.5 764.8,1114.9 766.8,1113.4 768.8,1111.9 770.9,1110.5 773,1109.1 775.1,1107.8 777.2,1106.5 779.4,1105.1 781.5,1103.8 783.6,1102.5 785.8,1101.3 787.9,1100 790.1,1098.7 792.2,1097.5 794.4,1096.2 796.6,1094.9 798.7,1093.7 800.9,1092.5 803.1,1091.3 805.3,1090.1 807.5,1088.9 809.7,1087.7 811.9,1086.4 814,1085.1 816.1,1083.7 818.1,1082.2 820,1080.6 821.8,1078.8 823.5,1077 825.2,1075.1 826.8,1073.1 828.3,1071 829.7,1069 831.1,1066.9 832.4,1064.8 833.7,1062.6 834.9,1060.5 836.1,1058.2 837.2,1056 838.3,1053.7 839.4,1051.5 840.4,1049.2 841.5,1046.9 842.5,1044.6 843.5,1042.3 844.4,1040 845.3,1037.7 846.2,1035.4 847.1,1033 848,1030.6 848.8,1028.3 849.6,1025.9 850.4,1023.6 851.2,1021.2 852,1018.8 852.7,1016.4 853.4,1014 854.1,1011.6 854.7,1009.2 855.4,1006.7 856,1004.3 856.6,1001.9 857.1,999.4 857.7,997 858.2,994.5 858.7,992.1 859.1,989.6 859.6,987.2 860,984.7 860.3,982.2 860.7,979.7 861,977.3 861.4,974.8 861.7,972.3 862,969.8 862.4,967.3 862.7,964.9 863.1,962.4 863.5,959.9 863.9,957.4 864.4,955 864.8,952.5 865.2,950 865.6,947.6 866.1,945.1 866.5,942.6 866.9,940.2 867.4,937.7 867.9,935.3 868.3,932.8 868.8,930.3 869.2,927.9 869.7,925.4 870.1,923 870.6,920.5 871,918 871.4,915.6 871.8,913.1 872.2,910.6 872.6,908.1 873,905.7 873.5,903.2 873.9,900.7 874.3,898.3 874.7,895.8 875.2,893.3 875.6,890.9 876,888.4 876.5,886 876.9,883.5 877.4,881 877.9,878.6 878.4,876.1 878.9,873.7 879.5,871.2 880.1,868.8 880.6,866.4 881.2,863.9 881.7,861.5 882.2,859 882.6,856.6 883.1,854.1 883.5,851.6 883.9,849.2 884.3,846.7 884.7,844.2 885.1,841.7 885.6,839.3 886,836.8 886.4,834.3 886.9,831.9 887.3,829.4 887.8,827 888.3,824.5 888.8,822.1 889.3,819.6 889.8,817.2 890.3,814.7 890.8,812.3 891.3,809.8 891.9,807.4 892.4,804.9 892.9,802.5 893.4,800 893.9,797.6 894.4,795.1 894.9,792.6 895.4,790.2 895.9,787.7 896.5,785.3 897,782.8 897.5,780.4 898,777.9 898.5,775.5 899,773 899.5,770.6 900.1,768.2 900.6,765.7 901.1,763.3 901.6,760.8 902.2,758.4 902.8,755.9 903.4,753.5 904,751.1 904.6,748.7 905.3,746.2 906,743.8 906.7,741.4 907.4,739 908.1,736.6 908.8,734.2 909.6,731.8 910.3,729.4 911.1,727.1 911.8,724.7 912.6,722.3 913.3,719.9 914.1,717.5 914.9,715.1 915.6,712.8 916.4,710.4 917.2,708 918,705.6 918.7,703.2 919.5,700.9 920.3,698.5 921.2,696.1 922,693.8 922.8,691.4 923.7,689.1 924.6,686.7 925.5,684.4 926.5,682.1 927.4,679.8 928.4,677.5 929.3,675.1 930.3,672.8 931.3,670.5 932.4,668.3 933.4,666 934.5,663.7 935.5,661.5 936.6,659.2 937.8,657.1 939.2,655.1 941,653 943.1,651.2 945.3,650.4 947.4,651 949.5,652.5 951.4,654.6 953,656.9 954.2,659.2 955.2,661.5 956,663.8 956.6,666.1 957.2,668.5 957.8,670.9 958.5,673.3 959.1,675.8 959.8,678.2 960.4,680.6 961,683 961.5,685.5 962,687.9 962.5,690.4 963.1,692.8 963.6,695.3 964,697.7 964.5,700.2 964.9,702.7 965.3,705.1 965.7,707.6 966.1,710.1 966.4,712.6 966.8,715 967.2,717.5 967.6,720 967.9,722.5 968.3,724.9 968.7,727.4 969,729.9 969.4,732.4 969.8,734.8 970.2,737.3 970.5,739.8 970.9,742.3 971.3,744.7 971.7,747.2 972,749.7 972.4,752.2 972.7,754.6 973.1,757.1 973.3,759.6 973.6,762.1 973.7,764.6 973.9,767.1 974,769.6 974.1,772.1 974.3,774.6 974.3,777.1 974.4,779.6 974.5,782.1 974.7,784.6 974.8,787.1 974.9,789.6 975.1,792.1 975.3,794.6 975.5,797.1 975.7,799.6 975.9,802.1 976.2,804.6 976.4,807.1 976.6,809.6 976.8,812.1 977,814.6 977.2,817.1 977.4,819.6 977.6,822 977.9,824.5 978.1,827 978.3,829.5 978.5,832 978.8,834.5 979,837 979.2,839.5 979.4,842 979.7,844.5 979.9,847 980.1,849.5 980.4,852 980.6,854.5 980.8,856.9 981.1,859.4 981.3,861.9 981.5,864.4 981.8,866.9 982,869.4 982.2,871.9 982.5,874.4 982.7,876.9 982.9,879.4 983.2,881.9 983.4,884.4 983.6,886.9 983.9,889.3 984.1,891.8 984.3,894.3 984.6,896.8 984.8,899.3 985.1,901.8 985.3,904.3 985.5,906.8 985.8,909.3 986,911.8 986.3,914.3 986.5,916.8 986.7,919.2 987,921.7 987.2,924.2 987.5,926.7 987.7,929.2 988,931.7 988.2,934.2 988.5,936.7 988.7,939.2 989,941.7 989.3,944.1 989.5,946.6 989.8,949.1 990.1,951.6 990.4,954.1 990.6,956.6 990.9,959.1 991.2,961.6 991.4,964.1 991.7,966.5 992,969 992.3,971.5 992.6,974 992.8,976.5 993.1,979 993.4,981.5 993.7,983.9 994,986.4 994.3,988.9 994.6,991.4 995,993.9 995.3,996.4 995.6,998.8 995.9,1001.3 996.3,1003.8 996.6,1006.3 996.9,1008.8 997.2,1011.3 997.6,1013.7 997.9,1016.2 998.3,1018.7 998.6,1021.2 998.9,1023.7 999.3,1026.1 999.6,1028.6 1000,1031.1 1000.3,1033.6 1000.6,1036.1 1001,1038.5 1001.3,1041 1001.7,1043.5 1002,1046 1002.3,1048.5 1002.7,1050.9 1003,1053.4 1003.3,1055.9 1003.7,1058.4 1004,1060.9 1004.3,1063.3 1004.7,1065.8 1005,1068.3 1005.3,1070.8 1005.7,1073.3 1006,1075.7 1006.3,1078.2 1006.6,1080.7 1007,1083.2 1007.3,1085.7 1007.6,1088.2 1007.9,1090.6 1008.3,1093.1 1008.6,1095.6 1008.9,1098.1 1009.2,1100.6 1009.6,1103 1009.9,1105.5 1010.3,1108 1010.7,1110.5 1011.1,1112.9 1011.5,1115.4 1012,1117.9 1012.5,1120.3 1012.9,1122.8 1013.4,1125.2 1013.9,1127.7 1014.4,1130.1 1014.9,1132.6 1015.4,1135.1 1015.9,1137.5 1016.4,1140 1017,1142.4 1017.5,1144.8 1018.1,1147.3 1018.8,1149.7 1019.4,1152.1 1020.1,1154.5 1020.9,1156.9 1021.7,1159.3 1022.5,1161.6 1023.4,1164 1024.4,1166.3 1025.5,1168.6 1026.6,1170.8 1027.9,1173 1029.1,1175.2 1030.4,1177.3 1031.7,1179.4 1033,1181.6 1034.4,1183.7 1035.9,1185.7 1037.5,1187.7 1039.1,1189.6 1040.7,1191.5 1042.3,1193.5 1043.7,1195.6 1044.9,1197.7 1046,1200 1047,1202.3 1047.9,1204.6 1048.9,1206.9 1049.8,1209.3 1050.6,1211.6 1051.5,1214 1052.3,1216.3 1053.1,1218.7 1053.9,1221.1 1054.7,1223.4 1055.5,1225.8 1056.3,1228.2 1057.1,1230.6 1057.9,1232.9 1058.7,1235.3 1059.4,1237.7 1060.2,1240.1 1061,1242.4 1061.8,1244.8 1062.6,1247.2 1063.4,1249.6 1064.2,1252 1065,1254.3 1065.8,1256.7 1066.5,1259.1 1067.3,1261.5 1068.1,1263.8 1068.9,1266.2 1069.7,1268.6 1070.5,1271 1071.3,1273.3 1072,1275.7 1072.8,1278.1 1073.7,1280.4 1074.7,1282.7 1075.7,1284.9 1076.9,1287.1 1078.1,1289.3 1079.4,1291.5 1080.9,1293.7 1082.5,1295.7 1084.3,1297.6 1086.3,1299.3 1088.4,1300.7 1090.7,1301.9 1093.1,1302.7 1095.6,1303.2 1098,1303.7 1100.5,1304.2 1103,1304.6 1105.4,1305 1107.9,1305.5 1110.4,1306 1112.8,1306.5 1115.3,1307.1 1117.7,1307.7 1120.2,1308.3 1122.6,1308.9 1125.1,1309.4 1127.5,1309.9 1130,1310.3 1132.5,1310.7 1135,1311 1137.5,1311.2 1140,1311.4 1142.5,1311.5 1145,1311.6 1147.5,1311.7 1150,1311.8 1152.5,1311.8 1155,1311.8 1157.5,1311.9 1160,1311.9 1162.5,1311.9 1165,1312 1167.5,1312 1170,1312.1 1172.5,1312.1 1175,1312.1 1177.5,1312.1 1180,1312.2 1182.5,1312.2 1185,1312.2 1187.5,1312.2 1190.1,1312.3 1192.6,1312.3 1195.1,1312.3 1197.6,1312.3 1200.1,1312.3 1202.6,1312.3 1205.1,1312.3 1207.6,1312.3 1210.1,1312.3 1212.6,1312.3 1215.1,1312.3 1217.6,1312.3 1220.1,1312.3 1222.6,1312.3 1225.1,1312.3 1227.6,1312.3 1230.1,1312.3 1232.6,1312.3 1235.1,1312.3 1237.6,1312.3 1240.1,1312.3 1242.6,1312.3 1245.1,1312.3 1247.6,1312.3 1250.1,1312.3 1252.6,1312.3 1255.1,1312.3 1257.6,1312.3 1260.1,1312.3 1262.6,1312.3 1265.1,1312.3 1267.6,1312.3 1270.2,1312.3 1272.7,1312.3 1275.2,1312.3 1277.7,1312.3 1280.2,1312.3 1282.7,1312.3 1285.2,1312.3 1287.7,1312.3 1290.2,1312.3 1292.7,1312.3 1295.2,1312.3 1297.7,1312.3 1300.2,1312.3 1302.7,1312.3 1305.2,1312.3 1307.7,1312.3 1310.2,1312.3 1312.7,1312.3 1315.2,1312.3 1317.7,1312.3 1320.2,1312.3 1322.7,1312.3 1325.2,1312.3 1327.7,1312.3 1330.2,1312.3 1332.7,1312.3 1335.2,1312.3 1337.7,1312.3 1340.2,1312.3 1342.7,1312.3 1345.2,1312.3 1347.7,1312.3 1350.3,1312.3 1352.8,1312.3 1355.3,1312.2 1357.8,1312.2 1360.3,1312.2 1362.8,1312.2 1365.3,1312.2 1367.8,1312.2 1370.3,1312.2 1372.8,1312.2 1375.3,1312.2 1377.8,1312.1 1380.3,1312.1 1382.8,1312.1 1385.3,1312.1 1387.7,1311.6 1390.1,1310.7 1392.4,1309.6 1394.7,1308.3 1397,1307 1399.2,1305.6 1401.3,1304.2 1403.3,1302.6 1405.4,1301.1 1407.7,1299.7 1410.1,1298.7 1412.6,1297.8 1415,1297.2 1417.4,1296.9 1419.9,1297 1422.3,1297.3 1424.7,1297.9 1427.2,1298.6 1429.6,1299.4 1432,1300.4 1434.2,1301.6 1436.4,1302.8 1438.7,1304 1441.1,1305 1443.5,1305.7 1446,1306.1 1448.5,1306.3 1451,1306.3 1453.5,1305.8 1455.8,1304.5 1458,1302.8 1460,1301 1461.9,1299.3 1463.7,1297.8 1465.6,1296.2 1467.5,1294.6 1469.5,1293 1471.4,1291.4 1473.3,1289.8 1475.2,1288.2 1477.1,1286.6 1479.1,1285 1481,1283.4 1483.1,1282.1 1485.3,1280.9 1487.6,1279.8 1489.9,1278.9 1492.3,1278 1494.8,1277.2 1497.3,1276.5 1499.7,1276 1502.2,1275.7 1504.7,1275.6 1507.1,1275.7 1509.6,1275.9 1512.1,1276.2 1514.6,1276.6 1517.1,1277.2 1519.5,1278 1521.8,1278.8 1524.2,1279.6 1526.5,1280.5 1528.9,1281.3 1531.3,1282.2 1533.6,1283 1536,1283.8 1538.3,1284.7 1540.7,1285.5 1543.1,1286.3 1545.4,1287.2 1547.8,1288 1550.1,1288.9 1552.5,1289.6 1555,1290.3 1557.4,1290.8 1559.9,1291.2 1562.4,1291.3 1564.9,1291.3 1567.4,1291.2 1569.9,1291.1 1572.4,1291 1574.9,1290.9 1577.4,1290.8 1579.9,1290.7 1582.4,1290.7 1584.9,1290.6 1587.4,1290.6 1589.9,1290.7 1592.4,1291.1 1594.7,1292 1596.9,1293.3 1599,1294.9 1601,1296.4 1603.1,1297.9 1604.9,1299.5 1606.7,1301.4 1608.5,1303.3 1610.4,1305.1 1612.6,1306.8 1614.9,1308.2 1617.3,1309.4 1619.7,1310.2 1622.1,1310.6 1624.6,1310.4 1627.1,1310 1629.5,1309.6 1632,1309.2 1634.5,1308.7 1637,1308.2 1639.4,1307.7 1641.9,1307.3 1644.4,1306.9 1646.9,1306.6 1649.4,1306.2 1651.9,1305.9 1654.3,1305.6 1656.8,1305.2 1659.3,1305 1661.8,1304.7 1664.3,1304.5 1666.8,1304.4 1669.3,1304.4 1671.8,1304.4 1674.3,1304.4 1676.8,1304.5 1679.3,1304.7 1681.8,1304.9 1684.3,1305.1 1686.8,1305.3 1689.3,1305.5 1691.8,1305.8 1694.3,1306 1696.8,1306.2 1699.3,1306.4 1701.8,1306.6 1704.3,1306.7 1706.8,1306.8 1709.3,1306.8 1711.8,1306.8 1714.3,1306.7 1716.8,1306.7 1719.3,1306.7 1721.8,1306.6 1724.3,1306.6 1726.8,1306.5 1729.3,1306.5 1731.8,1306.4 1734.3,1306.4 1736.8,1306.3 1739.3,1306.3 1741.9,1306.2 1744.4,1306.2 1746.9,1306.1 1749.4,1306.1 1751.9,1306 1754.4,1306 1756.9,1305.9 1759.4,1305.9 1761.9,1305.8 1764.4,1305.8 1766.9,1305.7 1769.4,1305.7 1771.9,1305.7 1774.4,1305.7 1776.9,1305.6 1779.4,1305.6 1781.9,1305.6 1784.4,1305.5 1786.9,1305.5 1789.4,1305.5 1791.9,1305.4 1794.4,1305.4 1796.9,1305.4 1799.4,1305.3 1801.9,1305.3 1804.4,1305.3 1806.9,1305.3 1809.4,1305.4 1811.9,1305.4 1814.4,1305.5 1816.9,1305.6 1819.4,1305.7 1821.9,1305.8 1824.4,1305.9 1826.9,1306 1829.4,1306.2 1831.9,1306.3 1834.4,1306.4 1837,1306.6 1839.5,1306.7 1841.9,1306.9 1844.4,1307 1846.9,1307.1 1849.4,1307.3 1851.9,1307.4 1854.4,1307.6 1856.9,1307.7 1859.4,1307.8 1861.9,1308 1864.4,1308.1 1866.9,1308.3 1869.4,1308.4 1871.9,1308.6 1874.4,1308.7 1876.9,1308.9 1879.4,1309 1881.9,1309.1 1884.4,1309.3 1886.9,1309.4 1889.4,1309.6 1891.9,1309.7 1894.4,1309.9 1896.9,1310 1899.4,1310.2 1901.9,1310.3 1904.4,1310.4 1906.9,1310.6 1909.4,1310.7 1911.9,1310.8 1914.4,1310.9 1916.9,1311.1 1919.4,1311.2 1922,1311.3 1924.5,1311.4 1927,1311.5 1929.5,1311.6 1932,1311.6 1934.5,1311.7 1937,1311.8 1939.5,1311.9 1942,1312 1944.5,1312 1947,1312.1 1949.5,1312.2 1952,1312.2 1954.5,1312.3 1957,1312.4 1959.5,1312.4 1962,1312.5 1964.5,1312.5 1967,1312.6 1969.5,1312.6 1972,1312.6 1974.5,1312.6 1977,1312.6"/>
<path stroke="#008000" stroke-width="5.2" stroke-dasharray="15.5 15.5 2 15.5 2 15" d="M299.3,165 299.3,167.5 299.3,170 299.3,172.5 299.4,175 299.4,177.5 299.4,180 299.4,182.5 299.4,185 299.5,187.5 299.5,190 299.5,192.5 299.5,195 299.5,197.5 299.5,200 299.6,202.5 299.6,205.1 299.6,207.6 299.6,210.1 299.6,212.6 299.7,215.1 299.7,217.6 299.7,220.1 299.7,222.6 299.8,225.1 299.8,227.6 299.8,230.1 299.8,232.6 299.9,235.1 299.9,237.6 299.9,240.1 299.9,242.6 300,245.1 300,247.6 300,250.1 300,252.6 300.1,255.1 300.1,257.6 300.1,260.1 300.1,262.6 300.2,265.1 300.2,267.6 300.2,270.1 300.2,272.6 300.3,275.1 300.3,277.6 300.3,280.1 300.4,282.6 300.4,285.2 300.4,287.7 300.4,290.2 300.5,292.7 300.5,295.2 300.5,297.7 300.6,300.2 300.6,302.7 300.6,305.2 300.6,307.7 300.7,310.2 300.7,312.7 300.7,315.2 300.8,317.7 300.8,320.2 300.8,322.7 300.9,325.2 300.9,327.7 300.9,330.2 301,332.7 301,335.2 301,337.7 301.1,340.2 301.1,342.7 301.1,345.2 301.2,347.7 301.2,350.2 301.2,352.7 301.3,355.2 301.3,357.7 301.3,360.2 301.4,362.7 301.4,365.3 301.5,367.8 301.5,370.3 301.5,372.8 301.6,375.3 301.6,377.8 301.6,380.3 301.7,382.8 301.7,385.3 301.8,387.8 301.8,390.3 301.8,392.8 301.9,395.3 301.9,397.8 301.9,400.3 302,402.8 302,405.3 302.1,407.8 302.1,410.3 302.1,412.8 302.2,415.3 302.2,417.8 302.2,420.3 302.3,422.8 302.3,425.3 302.4,427.8 302.4,430.3 302.4,432.8 302.5,435.3 302.5,437.8 302.5,440.3 302.6,442.8 302.6,445.3 302.7,447.9 302.7,450.4 302.7,452.9 302.8,455.4 302.8,457.9 302.9,460.4 302.9,462.9 302.9,465.4 303,467.9 303,470.4 303.1,472.9 303.1,475.4 303.1,477.9 303.2,480.4 303.2,482.9 303.3,485.4 303.3,487.9 303.3,490.4 303.4,492.9 303.4,495.4 303.5,497.9 303.5,500.4 303.5,502.9 303.6,505.4 303.6,507.9 303.7,510.4 303.7,512.9 303.7,515.4 303.8,517.9 303.8,520.4 303.9,522.9 303.9,525.4 303.9,527.9 304,530.4 304,533 304.1,535.5 304.1,538 304.1,540.5 304.2,543 304.2,545.5 304.3,548 304.3,550.5 304.3,553 304.4,555.5 304.4,558 304.5,560.5 304.5,563 304.6,565.5 304.6,568 304.6,570.5 304.7,573 304.7,575.5 304.8,578 304.8,580.5 304.9,583 304.9,585.5 305,588 305,590.5 305,593 305.1,595.5 305.1,598 305.2,600.5 305.2,603 305.3,605.5 305.3,608 305.4,610.5 305.4,613 305.5,615.5 305.5,618.1 305.5,620.6 305.6,623.1 305.6,625.6 305.7,628.1 305.7,630.6 305.8,633.1 305.8,635.6 305.9,638.1 305.9,640.6 306,643.1 306,645.6 306,648.1 306.1,650.6 306.1,653.1 306.2,655.6 306.2,658.1 306.3,660.6 306.3,663.1 306.3,665.6 306.4,668.1 306.4,670.6 306.5,673.1 306.5,675.6 306.5,678.1 306.6,680.6 306.6,683.1 306.7,685.6 306.7,688.1 306.8,690.6 306.8,693.1 306.9,695.6 306.9,698.1 307,700.6 307,703.2 307.1,705.7 307.1,708.2 307.2,710.7 307.2,713.2 307.3,715.7 307.4,718.2 307.4,720.7 307.5,723.2 307.5,725.7 307.6,728.2 307.7,730.7 307.8,733.2 307.8,735.7 307.9,738.2 308,740.7 308.1,743.2 308.1,745.7 308.2,748.2 308.3,750.7 308.4,753.2 308.5,755.7 308.6,758.2 308.7,760.7 308.8,763.2 308.9,765.7 309,768.2 309.1,770.7 309.2,773.2 309.3,775.7 309.4,778.2 309.5,780.7 309.6,783.2 309.7,785.7 309.8,788.2 309.9,790.7 310,793.2 310.1,795.7 310.2,798.2 310.3,800.7 310.4,803.2 310.5,805.7 310.6,808.2 310.7,810.7 310.8,813.2 310.9,815.7 311,818.2 311.1,820.7 311.2,823.2 311.3,825.7 311.4,828.2 311.5,830.7 311.6,833.2 311.7,835.7 311.8,838.2 311.9,840.7 312,843.2 312.1,845.7 312.2,848.2 312.3,850.7 312.4,853.2 312.5,855.7 312.6,858.3 312.7,860.8 312.8,863.3 312.9,865.8 313,868.3 313.1,870.8 313.2,873.3 313.3,875.8 313.4,878.3 313.5,880.8 313.6,883.3 313.7,885.8 313.8,888.3 313.9,890.8 314,893.3 314.1,895.8 314.2,898.3 314.3,900.8 314.4,903.3 314.5,905.8 314.6,908.3 314.7,910.8 314.8,913.3 314.9,915.8 315,918.3 315.1,920.8 315.2,923.3 315.2,925.8 315.3,928.3 315.4,930.8 315.5,933.3 315.6,935.8 315.7,938.3 315.8,940.8 315.9,943.3 316,945.8 316.1,948.3 316.2,950.8 316.3,953.3 316.4,955.8 316.5,958.3 316.6,960.8 316.7,963.3 316.9,965.8 317,968.3 317.1,970.8 317.2,973.3 317.3,975.8 317.4,978.3 317.6,980.8 317.7,983.3 318,985.8 318.4,988.3 318.8,990.7 319.3,993.2 319.9,995.6 320.5,998.1 321.1,1000.5 321.8,1002.9 322.4,1005.4 323.1,1007.8 323.9,1010.2 324.6,1012.6 325.3,1015 326,1017.4 326.7,1019.8 327.4,1022.2 327.9,1024.6 328.5,1027 329.1,1029.5 329.7,1031.9 330.2,1034.4 330.8,1036.8 331.4,1039.2 331.9,1041.7 332.5,1044.1 333.1,1046.5 333.6,1049 334.2,1051.4 334.8,1053.9 335.3,1056.3 335.9,1058.7 336.5,1061.2 337,1063.6 337.6,1066 338.2,1068.5 338.8,1070.9 339.4,1073.4 339.9,1075.8 340.6,1078.2 341.2,1080.6 341.9,1083 342.5,1085.5 343.2,1087.9 343.8,1090.3 344.5,1092.7 345.1,1095.1 345.7,1097.6 346.3,1100 346.9,1102.4 347.5,1104.9 348.1,1107.3 348.7,1109.7 349.3,1112.1 350,1114.6 350.7,1117 351.4,1119.3 352.2,1121.7 352.9,1124.1 353.7,1126.5 354.4,1128.9 355.2,1131.3 356,1133.7 356.8,1136 357.7,1138.4 358.6,1140.7 359.9,1142.8 361.3,1144.9 362.9,1146.8 364.6,1148.8 366.3,1150.7 367.9,1152.7 369.3,1154.7 370.5,1156.9 371.6,1159.1 372.6,1161.4 373.6,1163.7 374.7,1166 375.7,1168.3 376.7,1170.6 377.7,1172.8 378.7,1175.1 379.7,1177.4 380.7,1179.7 381.8,1182 382.8,1184.3 383.8,1186.6 384.7,1188.9 385.7,1191.2 386.6,1193.6 387.5,1195.9 388.3,1198.2 389.2,1200.6 390.1,1202.9 391,1205.3 391.8,1207.6 392.7,1210 393.6,1212.3 394.4,1214.7 395.3,1217 396.2,1219.4 397.1,1221.7 397.9,1224.1 398.8,1226.4 399.8,1228.7 400.9,1230.9 402.1,1233.1 403.4,1235.3 404.7,1237.4 406,1239.5 407.4,1241.7 408.7,1243.8 410,1245.9 411.4,1248 412.7,1250 414.2,1252 415.9,1254 417.7,1255.8 419.7,1257.6 421.8,1259 424,1260.3 426.3,1261.3 428.7,1262.2 431.1,1262.8 433.6,1263.3 436.1,1263.7 438.6,1263.9 441.1,1264.1 443.6,1264.2 446.1,1264.2 448.6,1264.3 451.1,1264.5 453.6,1264.9 456,1265.3 458.5,1265.8 460.9,1266.3 463.4,1266.8 465.9,1267.3 468.3,1267.7 470.8,1268.1 473.3,1268.3 475.8,1268.3 478.3,1268.1 480.8,1267.5 483.2,1266.5 485.3,1265.1 487.1,1263.4 488.7,1261.4 490.1,1259.2 491.4,1257 492.8,1254.8 494.2,1252.8 495.9,1250.9 497.9,1249.4 499.9,1247.9 502,1246.6 504.1,1245.2 506.2,1243.9 508.4,1242.7 510.6,1241.6 512.9,1240.5 515.3,1239.5 517.7,1238.6 520.2,1237.9 522.7,1237.2 525.2,1236.6 527.6,1236.1 530.1,1235.8 532.6,1235.6 535.1,1235.6 537.5,1235.7 540,1236 542.4,1236.4 544.9,1236.8 547.3,1237.3 549.8,1237.8 552.2,1238.4 554.7,1239 557.1,1239.7 559.5,1240.4 562,1241.2 564.4,1242 566.7,1242.8 569,1243.7 571.4,1244.7 573.7,1245.6 576,1246.5 578.4,1247.3 580.8,1248.1 583.2,1248.7 585.7,1249.3 588.2,1249.8 590.7,1250.3 593.2,1250.6 595.7,1250.8 598.2,1250.9 600.7,1250.9 603.1,1250.8 605.6,1250.5 608,1250.1 610.4,1249.5 612.8,1248.9 615.2,1248.1 617.5,1247.1 619.8,1246.1 622.1,1245 624.4,1243.8 626.7,1242.4 628.9,1241.1 631.1,1239.6 633.2,1238.1 635.2,1236.6 637.2,1235.1 639.1,1233.5 640.9,1231.9 642.8,1230.2 644.6,1228.5 646.3,1226.8 648,1224.9 649.6,1222.9 651.1,1220.9 652.6,1218.8 654,1216.7 655.5,1214.7 657,1212.7 658.6,1210.8 660.3,1209 662.2,1207.4 664.2,1205.9 666.3,1204.5 668.3,1203 670.3,1201.5 672.4,1200.1 674.4,1198.6 676.5,1197.2 678.5,1195.7 680.6,1194.3 682.6,1192.8 684.6,1191.4 686.7,1190 688.7,1188.5 690.8,1187.1 692.8,1185.6 694.8,1184.1 696.8,1182.5 698.6,1180.8 700.4,1179 702.1,1177.2 703.7,1175.3 705.3,1173.3 706.8,1171.2 708.2,1169.1 709.6,1167 710.9,1164.9 712.2,1162.7 713.4,1160.6 714.7,1158.4 716,1156.2 717.2,1154.1 718.5,1151.9 719.7,1149.8 721,1147.6 722.3,1145.4 723.5,1143.3 724.8,1141.1 726.1,1139 727.4,1136.8 728.7,1134.7 729.9,1132.5 731.2,1130.4 732.5,1128.2 733.8,1126.1 735.1,1123.9 736.4,1121.8 737.7,1119.7 739,1117.5 740.4,1115.5 741.9,1113.5 743.5,1111.5 745.1,1109.5 746.6,1107.6 748.2,1105.6 749.7,1103.6 751.1,1101.6 752.4,1099.4 753.7,1097.3 755,1095.1 756.2,1093 757.4,1090.8 758.6,1088.6 759.8,1086.4 761,1084.2 762.3,1082 763.5,1079.8 764.8,1077.7 766.2,1075.6 767.6,1073.5 769,1071.5 770.4,1069.4 771.9,1067.4 773.3,1065.3 774.8,1063.3 776.3,1061.3 777.8,1059.2 779.2,1057.2 780.7,1055.2 782.2,1053.2 783.7,1051.2 785.3,1049.2 786.8,1047.2 788.3,1045.2 789.9,1043.3 791.5,1041.4 793.1,1039.5 794.8,1037.6 796.5,1035.8 798.3,1034 800.1,1032.3 802,1030.6 803.9,1029 805.8,1027.4 807.8,1025.8 809.8,1024.3 811.8,1022.8 813.8,1021.3 815.8,1019.8 817.8,1018.3 819.8,1016.8 821.8,1015.4 823.9,1014 826.1,1012.6 828.2,1011.3 830.4,1010.1 832.5,1008.8 834.7,1007.5 836.8,1006.2 838.9,1004.8 841,1003.4 843,1001.9 844.9,1000.3 846.7,998.5 848.5,996.7 850.1,994.9 851.8,993 853.3,991 854.8,989 856.4,987 857.9,985 859.4,983 860.9,981 862.4,979 864,977 865.5,975.1 867.1,973.1 868.6,971.1 870,969.1 871.4,967 872.8,964.9 874.1,962.8 875.2,960.5 876.3,958.2 877.4,955.9 878.3,953.6 879.3,951.2 880.1,948.9 880.9,946.5 881.7,944.1 882.5,941.7 883.2,939.3 883.8,936.9 884.5,934.5 885.1,932.1 885.7,929.6 886.2,927.2 886.8,924.8 887.4,922.3 887.9,919.9 888.5,917.4 889,915 889.6,912.5 890.1,910.1 890.7,907.6 891.2,905.2 891.8,902.8 892.4,900.3 892.9,897.9 893.5,895.4 894,893 894.6,890.6 895.1,888.1 895.7,885.7 896.2,883.2 896.8,880.8 897.3,878.3 897.8,875.9 898.4,873.4 898.9,871 899.4,868.5 899.9,866.1 900.4,863.6 900.9,861.2 901.3,858.7 901.8,856.3 902.2,853.8 902.7,851.3 903.1,848.9 903.5,846.4 904,843.9 904.4,841.5 904.8,839 905.2,836.5 905.6,834.1 906,831.6 906.3,829.1 906.7,826.6 907.1,824.2 907.5,821.7 907.9,819.2 908.2,816.7 908.6,814.3 909,811.8 909.3,809.3 909.7,806.8 910.1,804.4 910.4,801.9 910.8,799.4 911.2,796.9 911.6,794.4 911.9,792 912.3,789.5 912.7,787 913.1,784.6 913.4,782.1 913.8,779.6 914.2,777.1 914.6,774.7 915,772.2 915.4,769.7 915.9,767.3 916.3,764.8 916.7,762.3 917.1,759.9 917.6,757.4 918,754.9 918.5,752.5 918.9,750 919.4,747.5 919.8,745.1 920.3,742.6 920.8,740.2 921.2,737.7 921.7,735.2 922.1,732.8 922.6,730.3 923.1,727.9 923.5,725.4 924,722.9 924.4,720.5 924.9,718 925.4,715.6 925.8,713.1 926.3,710.6 926.7,708.2 927.2,705.7 927.7,703.3 928.1,700.8 928.6,698.3 929,695.9 929.5,693.4 929.9,690.9 930.4,688.5 930.8,686 931.3,683.6 931.7,681.1 932.1,678.6 932.6,676.2 933,673.7 933.4,671.2 933.9,668.8 934.3,666.3 934.8,663.9 935.2,661.4 935.7,658.9 936.1,656.5 936.6,654 937.1,651.5 937.6,649.1 938.2,646.4 938.9,643.6 939.7,640.6 940.6,637.7 941.5,634.9 942.5,632.3 943.5,630.1 944.6,628.3 945.5,627.1 946.5,626.7 947.5,627.3 948.6,628.8 949.8,631.1 950.9,633.9 952,637 953,640.2 953.8,643.4 954.4,646.3 954.9,648.8 955.2,651.3 955.6,653.8 955.9,656.3 956.2,658.8 956.5,661.2 956.7,663.7 957,666.2 957.2,668.7 957.4,671.2 957.7,673.7 957.9,676.2 958.1,678.7 958.4,681.1 958.6,683.6 958.9,686.1 959.2,688.6 959.5,691.1 959.9,693.6 960.2,696.1 960.5,698.5 960.8,701 961.2,703.5 961.5,706 961.8,708.5 962.2,710.9 962.5,713.4 962.8,715.9 963.1,718.4 963.4,720.9 963.7,723.4 964,725.8 964.3,728.3 964.6,730.8 964.8,733.3 965.1,735.8 965.3,738.3 965.5,740.8 965.7,743.3 965.9,745.8 966.1,748.3 966.3,750.8 966.5,753.3 966.7,755.8 966.9,758.3 967.1,760.8 967.3,763.3 967.5,765.7 967.7,768.2 967.9,770.7 968.1,773.2 968.3,775.7 968.5,778.2 968.6,780.7 968.8,783.2 969,785.7 969.2,788.2 969.4,790.7 969.6,793.2 969.8,795.7 970,798.2 970.2,800.7 970.4,803.2 970.5,805.7 970.7,808.2 970.9,810.7 971.1,813.2 971.3,815.7 971.5,818.2 971.7,820.7 971.9,823.2 972.1,825.7 972.3,828.1 972.5,830.6 972.7,833.1 972.9,835.6 973.1,838.1 973.3,840.6 973.5,843.1 973.7,845.6 973.9,848.1 974.2,850.6 974.4,853.1 974.6,855.6 974.8,858.1 975.1,860.6 975.3,863.1 975.5,865.6 975.8,868 976,870.5 976.2,873 976.5,875.5 976.7,878 976.9,880.5 977.2,883 977.4,885.5 977.6,888 977.9,890.5 978.1,893 978.4,895.5 978.6,898 978.8,900.4 979.1,902.9 979.3,905.4 979.5,907.9 979.8,910.4 980,912.9 980.2,915.4 980.4,917.9 980.7,920.4 980.9,922.9 981.1,925.4 981.3,927.9 981.5,930.4 981.7,932.9 981.9,935.4 982.2,937.8 982.4,940.3 982.6,942.8 982.8,945.3 983,947.8 983.2,950.3 983.4,952.8 983.6,955.3 983.8,957.8 984,960.3 984.3,962.8 984.5,965.3 984.7,967.8 984.9,970.3 985.1,972.8 985.3,975.3 985.5,977.8 985.7,980.3 985.9,982.7 986.2,985.2 986.4,987.7 986.6,990.2 986.8,992.7 987,995.2 987.2,997.7 987.4,1000.2 987.6,1002.7 987.8,1005.2 988,1007.7 988.2,1010.2 988.4,1012.7 988.6,1015.2 988.7,1017.7 988.9,1020.2 989.1,1022.7 989.2,1025.2 989.4,1027.7 989.6,1030.2 989.8,1032.7 989.9,1035.2 990.1,1037.7 990.3,1040.2 990.5,1042.7 990.6,1045.2 990.8,1047.6 991,1050.1 991.2,1052.6 991.4,1055.1 991.6,1057.6 991.8,1060.1 992.1,1062.6 992.3,1065.1 992.5,1067.6 992.8,1070.1 993,1072.6 993.3,1075.1 993.6,1077.6 993.8,1080 994.1,1082.5 994.4,1085 994.7,1087.5 995,1090 995.3,1092.5 995.6,1095 995.9,1097.5 996.2,1099.9 996.5,1102.4 996.8,1104.9 997.1,1107.4 997.4,1109.9 997.7,1112.4 998,1114.8 998.3,1117.3 998.7,1119.8 999,1122.3 999.3,1124.8 999.6,1127.3 1000,1129.7 1000.3,1132.2 1000.6,1134.7 1001,1137.2 1001.3,1139.7 1001.6,1142.1 1002,1144.6 1002.3,1147.1 1002.7,1149.6 1003,1152.1 1003.4,1154.5 1003.7,1157 1004.1,1159.5 1004.4,1162 1004.8,1164.4 1005.2,1166.9 1005.6,1169.4 1006,1171.9 1006.4,1174.3 1006.8,1176.8 1007.3,1179.3 1007.7,1181.7 1008.1,1184.2 1008.5,1186.7 1009,1189.1 1009.4,1191.6 1009.8,1194.1 1010.3,1196.5 1010.8,1199 1011.3,1201.4 1011.9,1203.9 1012.4,1206.3 1013,1208.7 1013.6,1211.2 1014.2,1213.6 1014.7,1216.1 1015.3,1218.5 1016,1220.9 1016.6,1223.3 1017.4,1225.7 1018.2,1228.1 1019,1230.4 1019.9,1232.7 1020.8,1235.1 1021.8,1237.4 1022.8,1239.7 1023.9,1242 1024.9,1244.3 1026.1,1246.5 1027.3,1248.6 1028.7,1250.6 1030.2,1252.5 1031.9,1254.4 1033.8,1256.1 1035.9,1257.9 1038.3,1259.5 1040.7,1260.8 1043.1,1261.8 1045.5,1262.5 1047.9,1262.8 1050.3,1262.8 1052.7,1262.5 1055.1,1262 1057.4,1261.3 1059.8,1260.4 1062.1,1259.3 1064.4,1258.1 1066.6,1256.6 1068.8,1255 1070.8,1253.4 1072.7,1251.8 1074.5,1250.1 1076.3,1248.4 1078,1246.7 1079.7,1244.9 1081.4,1243.1 1083.1,1241.3 1084.6,1239.4 1086,1237.4 1087.4,1235.4 1088.8,1233.5 1090.4,1231.5 1092.1,1229.5 1093.9,1227.6 1096,1225.7 1098.2,1224 1100.4,1222.6 1102.6,1221.5 1104.7,1221 1107,1221.2 1109.4,1222 1111.7,1223.2 1113.9,1224.9 1115.8,1226.9 1117.3,1229 1118.6,1231.2 1119.9,1233.3 1121.1,1235.5 1122.4,1237.7 1123.6,1239.9 1124.8,1242 1126,1244.2 1127.2,1246.4 1128.5,1248.6 1129.7,1250.7 1131,1252.9 1132.2,1255.1 1133.4,1257.3 1134.7,1259.4 1135.9,1261.6 1137.1,1263.8 1138.4,1266 1139.6,1268.1 1140.9,1270.3 1142.1,1272.5 1143.4,1274.6 1144.8,1276.7 1146.2,1278.8 1147.6,1280.9 1149,1282.9 1150.4,1285 1151.9,1287 1153.4,1289 1155,1291 1156.6,1292.8 1158.4,1294.6 1160.2,1296.3 1162.1,1297.9 1164.1,1299.5 1166.2,1301.3 1168.3,1303 1170.4,1304.6 1172.6,1306.1 1174.8,1307.4 1177.1,1308.5 1179.4,1309.4 1181.9,1310 1184.4,1310.5 1186.9,1310.9 1189.4,1311.2 1191.8,1311.5 1194.3,1311.7 1196.8,1311.9 1199.3,1312 1201.8,1312.1 1204.3,1312.2 1206.8,1312.3 1209.3,1312.3 1211.8,1312.3 1214.3,1312.3 1216.8,1312.3 1219.3,1312.3 1221.9,1312.3 1224.4,1312.3 1226.9,1312.3 1229.4,1312.3 1231.9,1312.3 1234.4,1312.3 1236.9,1312.3 1239.4,1312.3 1241.9,1312.3 1244.4,1312.3 1246.9,1312.3 1249.4,1312.3 1251.9,1312.3 1254.4,1312.3 1256.9,1312.3 1259.4,1312.3 1261.9,1312.3 1264.4,1312.3 1266.9,1312.3 1269.4,1312.3 1271.9,1312.3 1274.4,1312.3 1276.9,1312.3 1279.4,1312.3 1281.9,1312.3 1284.4,1312.3 1286.9,1312.3 1289.4,1312.3 1291.9,1312.3 1294.4,1312.3 1297,1312.3 1299.5,1312.3 1302,1312.3 1304.5,1312.3 1307,1312.3 1309.5,1312.3 1312,1312.3 1314.5,1312.3 1317,1312.3 1319.5,1312.3 1322,1312.3 1324.5,1312.3 1327,1312.3 1329.5,1312.3 1332,1312.3 1334.5,1312.3 1337,1312.3 1339.5,1312.3 1342,1312.3 1344.5,1312.3 1347,1312.3 1349.5,1312.3 1352,1312.3 1354.5,1312.3 1357,1312.3 1359.5,1312.3 1362,1312.3 1364.5,1312.3 1367,1312.3 1369.5,1312.3 1372,1312.3 1374.6,1312.3 1377.1,1312.3 1379.6,1312.3 1382.1,1312.3 1384.6,1312.3 1387.1,1312.3 1389.6,1312.3 1392.1,1312.3 1394.6,1312.3 1397.1,1312.3 1399.6,1312.3 1402.1,1312.3 1404.6,1312.3 1407.1,1312.3 1409.6,1312.3 1412.1,1312.3 1414.6,1312.3 1417.1,1312.2 1419.6,1312.2 1422.1,1312.2 1424.6,1312.2 1427.1,1312.2 1429.6,1312.2 1432.1,1312.2 1434.6,1312.1 1437.1,1312.1 1439.6,1312.1 1442,1311.6 1444,1310 1445.7,1307.6 1447.2,1304.9 1448.5,1302.4 1449.7,1300 1451,1297.8 1452.2,1295.6 1453.4,1293.4 1454.6,1291.2 1455.8,1289 1457.1,1286.9 1458.3,1284.7 1459.6,1282.5 1460.8,1280.4 1462.1,1278.2 1463.4,1276.1 1464.7,1273.9 1465.9,1271.8 1467.3,1269.7 1468.6,1267.5 1470,1265.5 1471.7,1263.6 1473.6,1262 1475.7,1260.6 1477.9,1259.2 1480.1,1258 1482.4,1256.8 1484.9,1255.8 1487.6,1255.3 1489.9,1255.9 1491.9,1257.4 1493.9,1258.9 1495.9,1260.5 1497.9,1261.9 1500,1263.4 1502,1264.8 1504,1266.2 1506.1,1267.6 1508.2,1268.9 1510.4,1270.2 1512.7,1271.4 1515.1,1272.4 1517.5,1273 1520,1273.5 1522.4,1273.9 1524.9,1274.1 1527.4,1274.3 1529.9,1274.5 1532.4,1274.6 1534.9,1274.5 1537.5,1274.4 1540,1274.2 1542.5,1274.1 1545,1274.2 1547.5,1274.6 1549.9,1275.1 1552.3,1275.8 1554.7,1276.7 1557,1277.6 1559.3,1278.6 1561.6,1279.6 1563.9,1280.7 1566.1,1281.8 1568.3,1283.1 1570.3,1284.6 1572.4,1286 1574.5,1287.3 1576.8,1288.3 1579.2,1289 1581.7,1289.6 1584.2,1290 1586.6,1290.4 1589.1,1290.8 1591.6,1291.1 1594.1,1291.4 1596.6,1291.7 1599.1,1291.9 1601.6,1292 1604.1,1292.2 1606.5,1292.4 1609,1292.7 1611.5,1293.2 1613.9,1293.8 1616.3,1294.6 1618.7,1295.3 1621.1,1296.2 1623.4,1297 1625.8,1297.9 1628.1,1298.8 1630.5,1299.7 1632.8,1300.7 1635,1302 1637.3,1303.2 1639.5,1304.4 1641.9,1305.3 1644.4,1306 1646.9,1306.2 1649.4,1306.1 1651.9,1305.7 1654.3,1305.2 1656.8,1304.6 1659.3,1304 1661.8,1303.5 1664.3,1303.2 1666.8,1303.2 1669.3,1303.3 1671.8,1303.5 1674.3,1303.7 1676.8,1304 1679.3,1304.2 1681.8,1304.5 1684.3,1304.7 1686.8,1305 1689.3,1305.3 1691.8,1305.5 1694.3,1305.8 1696.8,1306 1699.3,1306.2 1701.8,1306.4 1704.3,1306.6 1706.8,1306.7 1709.3,1306.8 1711.8,1306.8 1714.3,1306.8 1716.8,1306.9 1719.3,1306.9 1721.8,1306.9 1724.3,1306.9 1726.8,1306.9 1729.3,1306.9 1731.8,1306.9 1734.3,1306.9 1736.8,1306.9 1739.3,1306.9 1741.8,1306.9 1744.3,1306.8 1746.8,1306.8 1749.3,1306.8 1751.8,1306.7 1754.3,1306.7 1756.8,1306.6 1759.3,1306.6 1761.8,1306.6 1764.3,1306.5 1766.8,1306.5 1769.3,1306.4 1771.8,1306.4 1774.3,1306.4 1776.8,1306.3 1779.4,1306.3 1781.9,1306.2 1784.4,1306.2 1786.9,1306.2 1789.4,1306.1 1791.9,1306.1 1794.4,1306.1 1796.9,1306.1 1799.4,1306.1 1801.9,1306.1 1804.4,1306.1 1806.9,1306.1 1809.4,1306.1 1811.9,1306.1 1814.4,1306.1 1816.9,1306.1 1819.4,1306.2 1821.9,1306.2 1824.4,1306.2 1826.9,1306.3 1829.4,1306.4 1831.9,1306.4 1834.4,1306.5 1836.9,1306.6 1839.4,1306.7 1841.9,1306.8 1844.4,1307 1846.9,1307.1 1849.4,1307.2 1851.9,1307.3 1854.4,1307.5 1856.9,1307.6 1859.4,1307.7 1861.9,1307.9 1864.4,1308 1866.9,1308.2 1869.4,1308.3 1871.9,1308.4 1874.4,1308.6 1876.9,1308.7 1879.4,1308.9 1881.9,1309 1884.4,1309.2 1886.9,1309.3 1889.4,1309.4 1891.9,1309.6 1894.4,1309.7 1896.9,1309.8 1899.4,1309.9 1901.9,1310 1904.4,1310.1 1906.9,1310.3 1909.5,1310.4 1912,1310.5 1914.5,1310.6 1917,1310.7 1919.5,1310.8 1922,1310.9 1924.5,1311 1927,1311.1 1929.5,1311.2 1932,1311.3 1934.5,1311.4 1937,1311.5 1939.5,1311.6 1942,1311.7 1944.5,1311.7 1947,1311.8 1949.5,1311.9 1952,1312 1954.5,1312.1 1957,1312.2 1959.5,1312.3 1962,1312.3 1964.5,1312.4 1967,1312.5 1969.5,1312.6 1972,1312.6 1974.5,1312.6 1977,1312.6"/>
<path stroke="#000000" stroke-width="5.2" stroke-dasharray="2.6 23.4" d="M298.5,749 298.6,751.5 298.7,754 298.8,756.5 299,759 299.1,761.5 299.2,764 299.3,766.5 299.4,769 299.6,771.5 299.7,774 299.8,776.5 299.9,779 300,781.5 300.2,784 300.3,786.5 300.4,789 300.6,791.5 300.7,794 300.8,796.5 300.9,799 301.1,801.5 301.2,804 301.3,806.5 301.5,809 301.6,811.5 301.8,814 301.9,816.5 302.1,819 302.2,821.5 302.4,824 302.5,826.5 302.6,829 302.8,831.5 302.9,834 303.1,836.5 303.2,839 303.4,841.5 303.5,844 303.6,846.5 303.8,849 303.9,851.5 304.1,854 304.2,856.5 304.3,859 304.4,861.5 304.6,864 304.7,866.5 304.8,869 304.9,871.5 305,874 305.1,876.5 305.3,879 305.4,881.5 305.5,884 305.6,886.5 305.7,889 305.8,891.5 306,894 306.1,896.5 306.2,899 306.3,901.5 306.4,904 306.6,906.4 306.7,908.9 306.9,911.4 307,913.9 307.2,916.4 307.3,918.9 307.5,921.4 307.6,923.9 307.7,926.4 307.9,928.9 308,931.4 308.1,933.9 308.2,936.4 308.3,938.9 308.4,941.4 308.5,943.9 308.6,946.4 308.7,948.9 308.8,951.4 308.9,953.9 308.9,956.4 309,958.9 309.1,961.4 309.2,963.9 309.2,966.4 309.3,968.9 309.3,971.5 309.4,974 309.5,976.5 309.6,979 309.7,981.5 309.8,984 310,986.4 310.2,988.9 310.5,991.4 310.9,993.9 311.2,996.4 311.6,998.9 311.9,1001.3 312.3,1003.8 312.6,1006.3 312.8,1008.8 313.1,1011.3 313.3,1013.8 313.5,1016.3 313.7,1018.8 313.8,1021.3 314,1023.8 314.2,1026.3 314.4,1028.8 314.6,1031.2 314.9,1033.7 315.1,1036.2 315.4,1038.7 315.6,1041.2 315.9,1043.7 316.2,1046.2 316.5,1048.7 316.8,1051.1 317.1,1053.6 317.5,1056.1 317.8,1058.6 318.2,1061.1 318.6,1063.5 318.9,1066 319.3,1068.5 319.7,1071 320.1,1073.4 320.5,1075.9 320.9,1078.4 321.3,1080.8 321.7,1083.3 322.1,1085.8 322.5,1088.3 322.9,1090.7 323.3,1093.2 323.8,1095.7 324.2,1098.1 324.6,1100.6 325.1,1103 325.5,1105.5 325.9,1108 326.3,1110.4 326.7,1112.9 327.1,1115.4 327.4,1117.9 327.6,1120.4 327.7,1122.9 327.9,1125.4 328,1127.9 328.1,1130.4 328.3,1132.9 328.5,1135.4 328.8,1137.9 329.2,1140.3 329.6,1142.8 330,1145.3 330.3,1147.8 330.7,1150.2 331.1,1152.7 331.5,1155.2 331.9,1157.6 332.3,1160.1 332.7,1162.6 333.1,1165 333.6,1167.5 334,1170 334.4,1172.4 334.8,1174.9 335.2,1177.4 335.6,1179.9 336,1182.3 336.4,1184.8 336.8,1187.3 337.3,1189.7 337.7,1192.2 338.1,1194.7 338.5,1197.1 338.9,1199.6 339.3,1202.1 339.7,1204.5 340.1,1207 340.6,1209.5 341,1211.9 341.4,1214.4 341.8,1216.9 342.3,1219.3 343.1,1221.7 344.1,1223.9 345.4,1226 346.9,1228.1 348.5,1230.1 350.3,1232 352.2,1233.8 354.1,1235.6 356.1,1237.3 358,1239 360,1240.7 361.9,1242.3 363.9,1243.8 365.8,1245.4 367.8,1246.9 369.8,1248.4 371.8,1249.8 373.8,1251.3 375.8,1252.7 377.8,1254.2 379.9,1255.6 382,1257.1 384.1,1258.6 386.2,1260 388.4,1261.4 390.5,1262.7 392.7,1263.8 394.8,1264.9 396.8,1265.1 398.7,1264.3 400.5,1262.7 402.2,1260.6 403.9,1258 405.7,1255.2 407.4,1252.4 409.2,1249.9 411.1,1247.7 413.2,1246.1 415.4,1245.4 417.8,1245.5 420.2,1246 422.6,1246.5 425.1,1247 427.5,1247.5 430,1248 432.4,1248.5 434.9,1249.1 437.4,1249.6 439.8,1250.1 442.3,1250.5 444.8,1251 447.2,1251.4 449.7,1251.8 452.2,1252.3 454.6,1252.7 457.1,1253.1 459.6,1253.6 462,1254 464.5,1254.3 467,1254.7 469.4,1255.1 471.9,1255.3 474.4,1255.3 476.8,1255.2 479.3,1254.9 481.8,1254.5 484.2,1254 486.7,1253.3 489.1,1252.5 491.6,1251.6 494,1250.7 496.5,1249.7 498.8,1248.5 501,1247.2 503.1,1245.7 505,1244.2 506.9,1242.6 508.8,1240.9 510.6,1239.2 512.5,1237.5 514.4,1235.9 516.3,1234.4 518.4,1233 520.5,1231.7 522.8,1230.6 525.1,1229.5 527.4,1228.5 529.8,1227.5 532.1,1226.6 534.5,1225.8 536.9,1225 539.2,1224.3 541.7,1223.7 544.1,1223.2 546.6,1222.8 549,1222.6 551.5,1222.6 554,1222.8 556.5,1223.2 559,1223.6 561.6,1224 564.1,1224.4 566.6,1224.6 569.1,1224.7 571.6,1224.6 574,1224.3 576.5,1223.9 578.9,1223.4 581.4,1222.8 583.8,1222.2 586.2,1221.5 588.5,1220.6 590.9,1219.7 593.2,1218.6 595.4,1217.4 597.7,1216 599.8,1214.5 601.9,1212.9 603.8,1211.3 605.6,1209.5 607.4,1207.7 609,1205.9 610.7,1204 612.3,1202.2 613.9,1200.3 615.5,1198.4 617.2,1196.6 618.9,1194.8 620.7,1193 622.6,1191.3 624.5,1189.7 626.5,1188.1 628.5,1186.6 630.6,1185.1 632.6,1183.7 634.7,1182.3 636.8,1180.9 638.9,1179.6 641.1,1178.4 643.3,1177.2 645.5,1176 647.7,1175 650.1,1174.5 652.6,1174.7 655.2,1175.3 657.9,1176.2 660.6,1177.3 663.3,1178.3 665.9,1179.1 668.4,1179.5 670.8,1179.4 672.9,1178.5 674.9,1177 676.8,1175.3 678.6,1173.6 680.4,1171.9 682.2,1170.2 684,1168.4 685.8,1166.6 687.5,1164.8 689.2,1163 690.9,1161.2 692.6,1159.4 694.3,1157.5 696,1155.7 697.7,1153.8 699.4,1152 701,1150 702.5,1148.1 704,1146.1 705.6,1144.1 707.1,1142.1 708.6,1140.1 710.1,1138.1 711.8,1136.2 713.4,1134.3 715.2,1132.5 717,1130.8 719,1129.2 721,1127.7 723.2,1126.5 725.5,1125.5 727.8,1124.6 730.2,1123.9 732.7,1123.2 735.1,1122.7 737.6,1122.1 740,1121.4 742.5,1120.7 744.8,1119.8 747.1,1118.9 749.5,1118 751.8,1117.2 754.1,1116.3 756.4,1115.4 758.8,1114.4 761,1113.5 763.3,1112.4 765.6,1111.3 767.8,1110 770,1108.7 772.1,1107.2 774.1,1105.6 775.9,1103.9 777.6,1102 779.2,1100.1 780.7,1098 782.1,1096 783.4,1093.8 784.7,1091.6 785.9,1089.4 787.2,1087.2 788.4,1085 789.6,1082.8 790.8,1080.6 792,1078.4 793.1,1076.2 794.3,1074 795.5,1071.8 796.6,1069.6 797.8,1067.3 798.9,1065.1 800,1062.9 801.1,1060.6 802.2,1058.4 803.3,1056.1 804.3,1053.8 805.4,1051.6 806.5,1049.3 807.5,1047 808.6,1044.8 809.6,1042.5 810.6,1040.2 811.6,1037.9 812.6,1035.6 813.6,1033.3 814.6,1031 815.6,1028.7 816.5,1026.4 817.5,1024.1 818.4,1021.8 819.3,1019.4 820.2,1017.1 821.1,1014.7 821.9,1012.4 822.7,1010 823.5,1007.6 824.2,1005.2 825,1002.8 825.7,1000.4 826.4,998 827.1,995.6 827.8,993.2 828.5,990.8 829.1,988.4 829.8,986 830.4,983.6 831,981.1 831.6,978.7 832.2,976.3 832.8,973.9 833.4,971.4 834,969 834.6,966.6 835.2,964.1 835.8,961.7 836.4,959.3 837,956.9 837.6,954.4 838.2,952 838.9,949.6 839.5,947.1 840.1,944.7 840.7,942.3 841.3,939.9 841.9,937.4 842.5,935 843.1,932.6 843.7,930.1 844.3,927.7 844.9,925.3 845.6,922.8 846.3,920.4 847.1,918 848,915.6 848.8,913.2 849.7,910.9 850.7,908.6 851.7,906.3 852.7,904.1 853.9,902.2 855.9,901.7 858.4,902.4 861.2,903.8 863.9,905.8 866.4,907.9 868.4,909.8 869.9,911.6 871,914 872,916.7 872.9,919.7 873.6,922.9 874.3,926 875,929 875.7,931.7 876.5,934 877.4,935.8 878.5,936.8 879.9,937 881.7,936.5 884,935.4 886.5,933.8 888.8,931.9 890.8,929.7 892.1,927.4 892.6,924.9 893.1,922.4 893.5,920 893.8,917.5 894.2,915 894.6,912.5 894.9,910.1 895.3,907.6 895.6,905.1 896,902.6 896.4,900.2 896.8,897.7 897.3,895.2 897.7,892.8 898.2,890.3 898.6,887.9 899.1,885.4 899.5,882.9 899.9,880.5 900.4,878 900.7,875.5 901.1,873 901.4,870.6 901.8,868.1 902.1,865.6 902.4,863.1 902.7,860.6 903,858.1 903.3,855.7 903.5,853.2 903.8,850.7 904.1,848.2 904.4,845.7 904.6,843.2 904.9,840.7 905.2,838.2 905.4,835.8 905.7,833.3 905.9,830.8 906.2,828.3 906.5,825.8 906.7,823.3 907,820.8 907.2,818.3 907.5,815.8 907.7,813.4 908,810.9 908.2,808.4 908.5,805.9 908.7,803.4 909,800.9 909.3,798.4 909.5,795.9 909.8,793.4 910.1,791 910.4,788.5 910.7,786 911.1,783.5 911.4,781 911.7,778.6 912,776.1 912.4,773.6 912.6,771.1 912.9,768.6 913.1,766.1 913.3,763.6 913.5,761.1 913.7,758.6 913.9,756.1 914,753.6 914.2,751.1 914.4,748.6 914.6,746.2 914.8,743.7 915,741.2 915.3,738.7 915.5,736.2 915.8,733.7 916.1,731.2 916.3,728.7 916.6,726.2 916.9,723.7 917.1,721.3 917.4,718.8 917.7,716.3 918,713.8 918.2,711.3 918.5,708.8 918.8,706.3 919,703.8 919.3,701.4 919.6,698.9 919.8,696.4 920,693.9 920.3,691.4 920.5,688.9 920.7,686.4 920.9,683.9 921.1,681.4 921.2,678.9 921.4,676.4 921.6,673.9 921.8,671.4 922,668.9 922.2,666.4 922.4,664 922.7,661.5 923,659 923.2,656.5 923.5,654 923.8,651.5 924,649 924.3,646.5 924.5,644 924.8,641.6 925.1,639.1 925.3,636.6 925.6,634.1 925.8,631.6 926.1,629.1 926.3,626.6 926.6,624.1 926.9,621.6 927.1,619.1 927.4,616.7 927.7,614.2 927.9,611.7 928.3,609.2 928.6,606.7 929,604.3 929.5,601.8 929.9,599.3 930.4,596.9 930.8,594.4 931.3,592 931.8,589.5 932.2,587 932.6,584.6 933,582.1 933.5,579.6 933.9,577.2 934.3,574.7 934.8,572.2 935.2,569.8 935.7,567.3 936.1,564.8 936.6,562.4 937.1,559.9 938,556.9 939.5,553.7 941.2,550.3 943.2,547.3 945.1,544.9 946.9,543.4 948.4,543.1 949.4,544.5 950.1,546.6 950.8,548.9 951.5,551.2 952.1,553.7 952.7,556.1 953.3,558.7 953.8,561.2 954.3,563.8 954.8,566.3 955.2,568.8 955.6,571.3 956,573.8 956.3,576.3 956.7,578.8 957,581.2 957.4,583.7 957.7,586.2 958.1,588.7 958.4,591.1 958.8,593.6 959.1,596.1 959.4,598.6 959.7,601.1 960,603.6 960.3,606 960.6,608.5 960.9,611 961.2,613.5 961.5,616 961.8,618.5 962,621 962.3,623.5 962.5,625.9 962.7,628.4 962.9,630.9 963.1,633.4 963.3,635.9 963.4,638.4 963.6,640.9 963.8,643.4 964,645.9 964.2,648.4 964.4,650.9 964.7,653.4 965,655.9 965.3,658.4 965.6,660.8 965.8,663.3 966.1,665.8 966.4,668.3 966.7,670.8 966.9,673.3 967.2,675.8 967.4,678.3 967.6,680.8 967.8,683.3 968,685.7 968.2,688.2 968.4,690.7 968.6,693.2 968.8,695.7 969.1,698.2 969.3,700.7 969.5,703.2 969.8,705.7 970,708.2 970.3,710.7 970.5,713.2 970.8,715.6 971,718.1 971.2,720.6 971.5,723.1 971.7,725.6 971.9,728.1 972.2,730.6 972.4,733.1 972.6,735.6 972.8,738.1 973,740.6 973.2,743.1 973.4,745.6 973.6,748.1 973.8,750.5 974.1,753 974.3,755.5 974.5,758 974.7,760.5 974.9,763 975.1,765.5 975.3,768 975.5,770.5 975.7,773 975.9,775.5 976.1,778 976.3,780.5 976.5,783 976.7,785.5 976.9,788 977.1,790.5 977.3,792.9 977.5,795.4 977.7,797.9 977.9,800.4 978.1,802.9 978.3,805.4 978.6,807.9 978.8,810.4 979,812.9 979.3,815.4 979.6,817.9 979.8,820.4 980.1,822.8 980.4,825.3 980.7,827.8 981,830.3 981.2,832.8 981.5,835.3 981.8,837.8 982,840.3 982.3,842.7 982.5,845.2 982.8,847.7 983.1,850.2 983.3,852.7 983.6,855.2 983.8,857.7 984.1,860.2 984.3,862.7 984.6,865.2 984.9,867.6 985.1,870.1 985.4,872.6 985.6,875.1 985.9,877.6 986.1,880.1 986.4,882.6 986.6,885.1 986.8,887.6 987.1,890.1 987.3,892.5 987.6,895 987.8,897.5 988.1,900 988.3,902.5 988.5,905 988.8,907.5 989,910 989.3,912.5 989.5,915 989.8,917.5 990,919.9 990.2,922.4 990.5,924.9 990.7,927.4 991,929.9 991.2,932.4 991.4,934.9 991.7,937.4 991.9,939.9 992.2,942.4 992.4,944.9 992.6,947.3 992.9,949.8 993.2,952.3 993.4,954.8 993.7,957.3 994,959.8 994.3,962.3 994.5,964.8 994.8,967.2 995.1,969.7 995.4,972.2 995.7,974.7 996,977.2 996.3,979.7 996.6,982.2 996.9,984.6 997.2,987.1 997.5,989.6 997.8,992.1 998.1,994.6 998.4,997.1 998.7,999.5 999,1002 999.3,1004.5 999.6,1007 999.9,1009.5 1000.2,1012 1000.5,1014.4 1000.8,1016.9 1001.1,1019.4 1001.4,1021.9 1001.7,1024.4 1002,1026.9 1002.3,1029.4 1002.6,1031.8 1002.9,1034.3 1003.2,1036.8 1003.5,1039.3 1003.8,1041.8 1004.1,1044.3 1004.4,1046.7 1004.7,1049.2 1005,1051.7 1005.3,1054.2 1005.7,1056.7 1006,1059.2 1006.3,1061.6 1006.6,1064.1 1006.9,1066.6 1007.2,1069.1 1007.7,1071.5 1008.1,1074 1008.6,1076.4 1009.2,1078.9 1009.8,1081.3 1010.4,1083.7 1011.1,1086.1 1011.8,1088.6 1012.5,1091 1013.4,1093.4 1014.5,1095.7 1015.9,1097.9 1017.6,1100 1019.3,1101.8 1021.2,1103.4 1023.2,1104.6 1025.7,1104.8 1028.5,1104.1 1031.1,1102.7 1033.1,1100.8 1034.5,1098.8 1035.9,1096.6 1037.2,1094.5 1038.6,1092.4 1039.9,1090.3 1041.3,1088.2 1042.6,1086.1 1044,1084 1045.4,1081.9 1046.7,1079.8 1048.1,1077.7 1049.4,1075.6 1050.8,1073.5 1052.1,1071.4 1053.5,1069.3 1054.9,1067.2 1056.2,1065.1 1057.6,1063 1058.9,1060.9 1060.3,1058.8 1061.7,1056.7 1063,1054.6 1064.4,1052.5 1065.8,1050.4 1067.3,1048.3 1069.3,1046.3 1071.7,1044.5 1074.2,1043.1 1076.7,1042.5 1079,1042.7 1080.9,1043.8 1082.7,1045.1 1084.5,1046.6 1086.3,1048.3 1088,1050.1 1089.7,1052.1 1091.4,1054.1 1093,1056.2 1094.5,1058.4 1096,1060.6 1097.3,1062.9 1098.6,1065.1 1099.8,1067.4 1101,1069.6 1102.2,1071.9 1103.3,1074.1 1104.5,1076.3 1105.6,1078.6 1106.6,1080.8 1107.6,1083.1 1108.6,1085.4 1109.6,1087.7 1110.5,1090 1111.4,1092.3 1112.3,1094.7 1113.1,1097 1114,1099.4 1114.9,1101.7 1115.7,1104.1 1116.6,1106.4 1117.4,1108.8 1118.2,1111.2 1119,1113.5 1119.8,1115.9 1120.6,1118.3 1121.3,1120.7 1122.1,1123.1 1122.8,1125.4 1123.6,1127.8 1124.3,1130.2 1125.1,1132.6 1125.8,1135 1126.6,1137.4 1127.3,1139.8 1128,1142.2 1128.8,1144.6 1129.5,1147 1130.2,1149.4 1130.9,1151.8 1131.6,1154.2 1132.4,1156.6 1133.1,1159 1133.8,1161.3 1134.5,1163.7 1135.2,1166.1 1135.9,1168.5 1136.6,1170.9 1137.4,1173.3 1138.1,1175.7 1138.8,1178.1 1139.5,1180.5 1140.2,1182.9 1140.9,1185.3 1141.6,1187.7 1142.3,1190.1 1143,1192.5 1143.7,1194.9 1144.4,1197.3 1145.1,1199.7 1145.8,1202.1 1146.5,1204.6 1147.2,1207 1147.9,1209.4 1148.6,1211.8 1149.3,1214.2 1150,1216.6 1150.7,1219 1151.4,1221.4 1152,1223.8 1152.7,1226.2 1153.4,1228.6 1154,1231 1154.6,1233.5 1155.3,1235.9 1155.9,1238.3 1156.5,1240.7 1157.1,1243.2 1157.7,1245.6 1158.4,1248 1159,1250.4 1159.7,1252.8 1160.4,1255.2 1161.1,1257.6 1161.8,1260 1162.6,1262.4 1163.4,1264.8 1164.1,1267.2 1164.9,1269.6 1165.7,1271.9 1166.5,1274.3 1167.3,1276.7 1168,1279.1 1168.9,1281.4 1169.7,1283.7 1170.6,1286 1171.5,1288.3 1172.6,1290.5 1173.7,1292.8 1174.9,1295 1176.2,1297.2 1177.7,1299.4 1179.3,1301.8 1181.1,1304 1183.1,1305.9 1185.2,1307.7 1187.5,1309.1 1189.8,1310.2 1192.2,1310.9 1194.7,1311.3 1197.2,1311.4 1199.7,1311.5 1202.2,1311.6 1204.7,1311.6 1207.2,1311.7 1209.7,1311.8 1212.2,1311.9 1214.7,1311.9 1217.2,1312 1219.7,1312 1222.2,1312.1 1224.7,1312.1 1227.2,1312.1 1229.7,1312.2 1232.2,1312.2 1234.7,1312.2 1237.2,1312.3 1239.7,1312.3 1242.2,1312.3 1244.7,1312.3 1247.3,1312.3 1249.8,1312.3 1252.3,1312.3 1254.8,1312.3 1257.3,1312.3 1259.8,1312.3 1262.3,1312.3 1264.8,1312.3 1267.3,1312.3 1269.8,1312.3 1272.3,1312.3 1274.8,1312.3 1277.3,1312.3 1279.8,1312.3 1282.3,1312.3 1284.8,1312.3 1287.3,1312.3 1289.8,1312.3 1292.3,1312.3 1294.8,1312.3 1297.3,1312.3 1299.8,1312.3 1302.3,1312.3 1304.8,1312.3 1307.3,1312.3 1309.8,1312.3 1312.3,1312.3 1314.8,1312.3 1317.3,1312.3 1319.8,1312.3 1322.3,1312.3 1324.8,1312.3 1327.3,1312.3 1329.8,1312.3 1332.3,1312.3 1334.8,1312.3 1337.3,1312.3 1339.8,1312.3 1342.3,1312.3 1344.8,1312.3 1347.4,1312.2 1349.9,1312.2 1352.4,1312.2 1354.9,1312.2 1357.4,1312.2 1359.9,1312.2 1362.4,1312.1 1364.9,1312.1 1367.4,1312.1 1369.9,1312.1 1372.4,1312.1 1374.9,1312 1377.4,1312 1379.9,1312 1382.4,1311.9 1384.9,1311.9 1387.4,1311.9 1389.9,1311.9 1392.4,1311.8 1394.9,1311.8 1397.4,1311.4 1399.7,1310.4 1402,1309 1404.3,1307.4 1406.6,1306.1 1408.9,1305.3 1411.2,1305.1 1413.6,1305.6 1416,1306.6 1418.4,1307.7 1420.8,1308.8 1423.2,1309.7 1425.6,1310.3 1428.1,1310.6 1430.6,1310.9 1433.1,1311 1435.6,1311 1438.2,1310.6 1440.6,1310 1443.1,1308.9 1445.2,1307.3 1446.9,1305.2 1448.1,1302.6 1449.2,1300.1 1450.2,1297.8 1451.2,1295.5 1452.2,1293.2 1453.2,1290.9 1454.2,1288.6 1455.3,1286.3 1456.3,1284.1 1457.3,1281.8 1458.4,1279.5 1459.5,1277.3 1460.5,1275 1461.6,1272.8 1462.7,1270.5 1463.7,1268.2 1464.8,1266 1465.9,1263.7 1467,1261.5 1468.1,1259.2 1469.2,1256.9 1470.2,1254.7 1471.4,1252.5 1472.6,1250.4 1473.8,1248.3 1475.3,1246.3 1476.8,1244.4 1478.6,1242.4 1480.6,1240.4 1482.8,1238.6 1485.1,1237.1 1487.5,1236.3 1489.7,1236.5 1491.8,1237.5 1494,1238.7 1496.1,1240.2 1498.2,1241.7 1500.3,1243.2 1502.2,1244.8 1504,1246.5 1505.8,1248.3 1507.5,1250.1 1509.2,1251.8 1511.1,1253.5 1513.1,1255 1515.4,1256.3 1517.9,1257.3 1520.3,1257.9 1522.8,1258.1 1525.3,1258.1 1527.8,1258 1530.3,1257.8 1532.8,1257.3 1535.2,1256.8 1537.7,1256.3 1540.2,1256 1542.7,1256.2 1545.1,1256.5 1547.6,1256.9 1550.1,1257.4 1552.5,1258 1554.9,1258.7 1557.3,1259.4 1559.8,1260.1 1562.2,1260.8 1564.6,1261.6 1567,1262.3 1569.3,1263.1 1571.7,1264.2 1574,1265.6 1576.4,1267 1578.7,1268.6 1580.9,1270.1 1583.2,1271.5 1585.4,1272.7 1587.7,1273.6 1589.9,1274.1 1592.1,1274.1 1594.3,1273.5 1596.5,1272.8 1598.7,1271.8 1600.9,1270.7 1603,1269.5 1605.2,1268.1 1607.3,1266.7 1609.4,1265.2 1611.6,1263.6 1613.7,1262.1 1615.8,1260.5 1617.9,1259 1620,1257.6 1622.1,1256.1 1624.1,1254.6 1626.1,1253.1 1628.1,1251.6 1630.1,1250 1632,1248.5 1634,1247 1635.9,1245.4 1637.9,1243.9 1639.9,1242.4 1641.9,1241 1644,1239.5 1646.1,1238.1 1648.3,1236.8 1650.7,1235.6 1653.2,1234.6 1655.8,1233.8 1658.4,1233.1 1661,1232.7 1663.6,1232.5 1666.1,1232.6 1668.6,1233 1670.9,1233.7 1673.1,1234.7 1675.3,1235.8 1677.4,1237 1679.6,1238.4 1681.7,1239.8 1683.7,1241.3 1685.7,1242.9 1687.6,1244.6 1689.5,1246.3 1691.3,1248.1 1693.1,1250 1694.7,1252 1696.3,1253.9 1697.9,1255.9 1699.4,1257.9 1700.9,1260 1702.4,1262 1703.9,1264 1705.4,1266 1706.8,1268 1708.3,1270 1709.8,1272 1711.2,1274.1 1712.7,1276.1 1714.2,1278.1 1715.6,1280.1 1717.1,1282.2 1718.5,1284.2 1719.8,1286.3 1721.2,1288.4 1722.5,1290.5 1723.9,1292.5 1725.3,1294.6 1726.7,1296.7 1728.1,1298.8 1729.6,1300.9 1731.1,1303.2 1732.7,1305.5 1734.7,1307.4 1736.9,1308.9 1739.2,1310.1 1741.7,1310.9 1744.3,1311.3 1746.8,1311.4 1749.3,1311.4 1751.8,1311.5 1754.3,1311.6 1756.8,1311.7 1759.3,1311.7 1761.8,1311.8 1764.3,1311.8 1766.8,1311.9 1769.3,1311.9 1771.8,1312 1774.3,1312 1776.8,1312.1 1779.3,1312.1 1781.8,1312.1 1784.3,1312.2 1786.8,1312.2 1789.3,1312.2 1791.8,1312.3 1794.3,1312.3 1796.8,1312.3 1799.3,1312.3 1801.8,1312.3 1804.3,1312.3 1806.8,1312.3 1809.3,1312.3 1811.8,1312.3 1814.3,1312.4 1816.8,1312.4 1819.3,1312.4 1821.8,1312.4 1824.3,1312.4 1826.9,1312.4 1829.4,1312.4 1831.9,1312.4 1834.4,1312.5 1836.9,1312.5 1839.4,1312.5 1841.9,1312.5 1844.4,1312.5 1846.9,1312.5 1849.4,1312.5 1851.9,1312.5 1854.4,1312.6 1856.9,1312.6 1859.4,1312.6 1861.9,1312.6 1864.4,1312.6 1866.9,1312.6 1869.4,1312.6 1871.9,1312.6 1874.4,1312.6 1876.9,1312.6 1879.4,1312.6 1881.9,1312.6 1884.4,1312.6 1886.9,1312.6 1889.4,1312.6 1891.9,1312.6 1894.4,1312.6 1896.9,1312.6 1899.4,1312.6 1901.9,1312.6 1904.4,1312.6 1906.9,1312.6 1909.4,1312.6 1911.9,1312.6 1914.4,1312.6 1916.9,1312.6 1919.4,1312.6 1921.9,1312.6 1924.4,1312.6 1926.9,1312.6 1929.5,1312.6 1932,1312.6 1934.5,1312.6 1937,1312.6 1939.5,1312.6 1942,1312.6 1944.5,1312.6 1947,1312.6 1949.5,1312.6 1952,1312.6 1954.5,1312.6 1957,1312.6 1959.5,1312.6 1962,1312.6 1964.5,1312.6 1967,1312.6 1969.5,1312.6 1972,1312.6 1974.5,1312.6 1977,1312.6"/>
<path stroke="#ff00ff" stroke-width="4.9" stroke-dasharray="6.2 13.6" stroke-dashoffset="10" d="M298.8,752 298.9,754.5 298.9,757 299,759.5 299,762 299.1,764.5 299.2,767 299.2,769.5 299.3,772 299.3,774.5 299.4,777 299.5,779.5 299.5,782 299.6,784.5 299.7,787 299.7,789.5 299.8,792 299.8,794.5 299.9,797 300,799.6 300,802.1 300.1,804.6 300.2,807.1 300.2,809.6 300.3,812.1 300.4,814.6 300.4,817.1 300.5,819.6 300.6,822.1 300.6,824.6 300.7,827.1 300.8,829.6 300.8,832.1 300.9,834.6 301,837.1 301,839.6 301.1,842.1 301.2,844.6 301.2,847.1 301.3,849.6 301.4,852.1 301.4,854.6 301.5,857.1 301.6,859.6 301.6,862.1 301.7,864.6 301.8,867.1 301.8,869.6 301.9,872.1 302,874.6 302,877.1 302.1,879.6 302.2,882.1 302.2,884.6 302.3,887.1 302.4,889.6 302.5,892.1 302.5,894.6 302.6,897.1 302.7,899.7 302.7,902.2 302.8,904.7 302.9,907.2 303,909.7 303.1,912.2 303.1,914.7 303.2,917.2 303.3,919.7 303.4,922.2 303.4,924.7 303.5,927.2 303.6,929.7 303.7,932.2 303.8,934.7 303.9,937.2 303.9,939.7 304,942.2 304.1,944.7 304.2,947.2 304.3,949.7 304.4,952.2 304.5,954.7 304.6,957.2 304.7,959.7 304.8,962.2 304.9,964.7 305,967.2 305.1,969.7 305.2,972.2 305.3,974.7 305.5,977.2 305.6,979.7 305.7,982.2 305.8,984.7 305.9,987.2 306,989.7 306.2,992.2 306.3,994.7 306.4,997.2 306.5,999.7 306.6,1002.2 306.7,1004.7 306.8,1007.2 306.9,1009.7 307,1012.2 307,1014.7 307.1,1017.2 307.2,1019.7 307.3,1022.2 307.4,1024.7 307.5,1027.2 307.6,1029.7 307.7,1032.2 307.8,1034.7 307.9,1037.2 308,1039.7 308.1,1042.2 308.2,1044.7 308.3,1047.2 308.3,1049.7 308.4,1052.3 308.5,1054.8 308.6,1057.3 308.7,1059.8 308.8,1062.3 308.8,1064.8 308.9,1067.3 309,1069.8 309.1,1072.3 309.2,1074.8 309.3,1077.3 309.3,1079.8 309.4,1082.3 309.5,1084.8 309.6,1087.3 309.7,1089.8 309.9,1092.3 310,1094.8 310.1,1097.3 310.2,1099.8 310.3,1102.3 310.4,1104.8 310.6,1107.3 310.7,1109.8 310.8,1112.3 310.9,1114.8 311.1,1117.3 311.2,1119.8 311.3,1122.3 311.5,1124.8 311.6,1127.3 311.7,1129.8 311.8,1132.3 312,1134.8 312.1,1137.3 312.2,1139.8 312.3,1142.3 312.5,1144.8 312.6,1147.3 312.7,1149.8 312.8,1152.3 313,1154.8 313.1,1157.3 313.2,1159.8 313.4,1162.3 313.5,1164.8 313.6,1167.3 313.7,1169.8 313.9,1172.3 314,1174.8 314.1,1177.3 314.3,1179.8 314.4,1182.3 314.6,1184.8 314.8,1187.3 315,1189.8 315.1,1192.3 315.3,1194.8 315.5,1197.3 315.7,1199.8 315.9,1202.3 316.1,1204.8 316.3,1207.2 316.6,1209.7 316.8,1212.2 317,1214.7 317.2,1217.2 317.4,1219.7 317.7,1222.2 318,1224.7 318.3,1227.2 318.7,1229.6 319.1,1232.1 319.5,1234.6 320,1237 320.4,1239.5 320.9,1242 321.3,1244.4 321.8,1246.9 322.3,1249.3 322.9,1251.7 323.7,1254 324.8,1256.3 326.2,1258.6 328,1260.9 329.9,1262.9 332.1,1264.4 334.3,1264.7 336.5,1264.1 338.8,1262.9 341,1261.6 343.2,1260.2 345.2,1258.7 347.2,1256.9 349.2,1255.3 351.2,1254.1 353.4,1254 355.8,1255.2 357.9,1257.1 359.6,1259.1 361.1,1261.1 362.6,1263.1 364.1,1265 365.6,1267 367.2,1268.9 368.8,1270.9 370.4,1272.7 372.2,1274.6 374.1,1276.1 376.7,1276.5 379.4,1275.9 381.6,1274.7 383.4,1273 385.2,1271.2 387,1269.4 388.9,1267.8 391,1266.4 393.1,1265.1 395.3,1263.8 397.5,1262.7 399.8,1261.6 402.1,1260.7 404.6,1260 407.1,1259.4 409.5,1259 412,1258.6 414.5,1258.4 417,1258.3 419.5,1258.3 422,1258.4 424.5,1258.6 427,1258.9 429.5,1259.1 432,1259.3 434.5,1259.4 437,1259.4 439.5,1259.3 442,1259.2 444.5,1258.9 446.9,1258.6 449.4,1258.1 451.9,1257.4 454.3,1256.5 456.6,1255.5 458.9,1254.5 461.2,1253.5 463.4,1252.4 465.7,1251.3 467.9,1250.3 470.3,1249.4 472.6,1248.4 474.9,1247.4 477.2,1246.4 479.5,1245.5 481.9,1244.6 484.3,1243.9 486.7,1243.3 489.1,1242.8 491.6,1242.3 494.1,1241.9 496.5,1241.4 499,1240.9 501.4,1240.5 503.9,1240 506.4,1239.5 508.8,1239.1 511.3,1238.6 513.7,1238.1 516.2,1237.7 518.7,1237.2 521.1,1236.8 523.6,1236.4 526.1,1236.3 528.6,1236.3 531.1,1236.3 533.6,1236.5 536.1,1236.7 538.6,1236.8 541.1,1237.1 543.6,1237.4 546.1,1237.8 548.6,1238.3 551.1,1238.6 553.5,1238.9 556,1239 558.5,1239.1 561,1239 563.5,1238.9 566,1238.8 568.5,1238.6 571,1238.4 573.5,1238.1 576,1237.7 578.5,1237.3 580.9,1237 583.4,1236.8 585.9,1236.7 588.4,1236.8 590.9,1236.9 593.5,1237 596,1237.2 598.5,1237.2 601,1237.1 603.5,1236.8 606,1236.4 608.4,1235.9 610.9,1235.3 613.3,1234.5 615.6,1233.6 617.9,1232.6 620.2,1231.5 622.4,1230.3 624.6,1229.1 626.8,1227.9 629,1226.7 631.1,1225.5 633.3,1224.3 635.5,1223 637.7,1221.8 639.9,1220.6 642.1,1219.4 644.3,1218.2 646.5,1217 648.7,1215.8 650.9,1214.6 653,1213.4 655.2,1212.1 657.4,1210.9 659.6,1209.7 661.8,1208.5 664.1,1207.4 666.4,1206.4 668.8,1205.5 671.2,1204.8 673.6,1204.1 676,1203.6 678.4,1203.6 680.9,1204.4 683.3,1205.4 685.7,1206.3 688.2,1206.8 690.6,1206.7 693.1,1206.3 695.5,1205.9 698,1205.2 700.4,1204.3 702.8,1203.4 705,1202.4 707.2,1201.2 709.4,1199.9 711.4,1198.4 713.4,1196.8 715.4,1195.3 717.3,1193.6 719.1,1191.9 720.8,1190.1 722.5,1188.3 724.1,1186.3 725.6,1184.3 727.1,1182.3 728.7,1180.4 730.2,1178.4 731.7,1176.4 733.3,1174.4 734.8,1172.4 736.3,1170.5 737.9,1168.5 739.4,1166.5 741,1164.6 742.5,1162.6 744.1,1160.6 745.6,1158.7 747.2,1156.7 748.7,1154.8 750.3,1152.8 751.9,1150.9 753.5,1148.9 755.1,1147 756.7,1145.1 758.4,1143.3 760.2,1141.5 762,1139.8 763.9,1138.1 765.8,1136.5 767.8,1134.9 769.7,1133.4 771.7,1131.8 773.7,1130.3 775.7,1128.8 777.7,1127.3 779.8,1125.8 781.8,1124.4 783.9,1123 786,1121.6 788,1120.2 790.1,1118.8 792.2,1117.4 794.2,1115.9 796.2,1114.4 798.2,1112.9 800.2,1111.4 802.2,1109.9 804.2,1108.3 806.1,1106.7 808,1105.1 809.8,1103.3 811.6,1101.5 813.2,1099.6 814.8,1097.6 816.3,1095.6 817.7,1093.6 819.1,1091.5 820.5,1089.4 821.9,1087.3 823.2,1085.2 824.5,1083.1 825.8,1080.9 827.1,1078.8 828.4,1076.6 829.6,1074.5 830.9,1072.3 832.2,1070.2 833.5,1068 834.8,1065.9 836,1063.7 837.3,1061.6 838.6,1059.4 839.8,1057.2 841.1,1055.1 842.4,1052.9 843.6,1050.8 844.9,1048.6 846.1,1046.4 847.3,1044.2 848.5,1042 849.6,1039.8 850.7,1037.5 851.8,1035.3 852.8,1033 853.9,1030.7 854.8,1028.4 855.8,1026.1 856.7,1023.7 857.6,1021.4 858.5,1019.1 859.4,1016.7 860.3,1014.4 861.1,1012 862,1009.7 862.8,1007.3 863.7,1005 864.6,1002.6 865.4,1000.3 866.3,997.9 867.1,995.5 868,993.2 868.8,990.8 869.6,988.5 870.5,986.1 871.4,983.8 872.2,981.4 873.1,979.1 873.9,976.7 874.8,974.4 875.6,972 876.4,969.6 877.2,967.3 878,964.9 878.8,962.5 879.5,960.1 880.2,957.7 880.8,955.3 881.5,952.8 882.1,950.4 882.7,948 883.3,945.6 883.8,943.1 884.4,940.7 885,938.2 885.5,935.8 886.1,933.4 886.6,930.9 887.2,928.5 887.7,926 888.3,923.6 888.8,921.1 889.4,918.7 890,916.3 890.6,913.9 891.3,911.4 891.9,909 892.6,906.6 893.3,904.2 894,901.8 894.6,899.4 895.2,896.9 895.8,894.5 896.3,892 896.7,889.6 897.1,887.1 897.5,884.6 897.9,882.2 898.3,879.7 898.7,877.2 899.1,874.7 899.4,872.3 899.8,869.8 900.1,867.3 900.5,864.8 900.8,862.3 901.2,859.9 901.5,857.4 901.9,854.9 902.3,852.4 902.6,850 903,847.5 903.4,845 903.7,842.5 904.1,840.1 904.5,837.6 904.9,835.1 905.2,832.6 905.6,830.2 906,827.7 906.4,825.2 906.7,822.7 907.1,820.3 907.5,817.8 907.9,815.3 908.2,812.8 908.6,810.4 909,807.9 909.4,805.4 909.7,802.9 910.1,800.5 910.5,798 910.9,795.5 911.3,793 911.7,790.6 912.1,788.1 912.4,785.6 912.8,783.1 913.2,780.7 913.6,778.2 914,775.7 914.4,773.2 914.8,770.8 915.2,768.3 915.6,765.8 916,763.4 916.4,760.9 916.7,758.4 917.1,755.9 917.6,753.5 918,751 918.4,748.5 918.8,746.1 919.2,743.6 919.6,741.1 920,738.7 920.4,736.2 920.8,733.7 921.3,731.2 921.7,728.8 922.1,726.3 922.5,723.8 922.9,721.4 923.4,718.9 923.8,716.4 924.3,714 924.7,711.5 925.2,709.1 925.7,706.6 926.1,704.1 926.6,701.7 927.1,699.2 927.6,696.8 928.1,694.3 928.6,691.9 929,689.4 929.5,687 930,684.5 930.6,682.1 931.1,679.6 931.6,677.2 932.2,674.8 932.8,672.4 933.5,670 934.1,667.5 934.8,665.1 935.6,662.7 936.3,660.3 937.2,657.7 938,654.8 939,651.8 939.9,648.9 940.8,646.2 941.8,644.1 942.7,642.5 943.6,641.9 944.5,642.2 945.5,643.4 946.6,645.4 947.6,648 948.5,650.9 949.4,654.1 950.2,657.3 950.8,660.5 951.3,663.4 951.5,665.9 951.8,668.4 952,670.9 952.3,673.4 952.5,675.9 952.8,678.4 953,680.8 953.3,683.3 953.5,685.8 953.8,688.3 954,690.8 954.3,693.3 954.5,695.8 954.8,698.3 955,700.8 955.3,703.3 955.5,705.8 955.8,708.2 956,710.7 956.3,713.2 956.5,715.7 956.8,718.2 957,720.7 957.3,723.2 957.5,725.7 957.8,728.2 958,730.7 958.3,733.2 958.5,735.6 958.8,738.1 959,740.6 959.3,743.1 959.5,745.6 959.8,748.1 960,750.6 960.3,753.1 960.6,755.6 960.8,758.1 961.1,760.5 961.4,763 961.6,765.5 961.9,768 962.2,770.5 962.4,773 962.7,775.5 962.9,778 963.2,780.5 963.4,783 963.7,785.5 963.9,787.9 964.1,790.4 964.3,792.9 964.5,795.4 964.7,797.9 964.8,800.4 965,802.9 965.2,805.4 965.4,807.9 965.6,810.4 965.8,812.9 966,815.4 966.1,817.9 966.3,820.4 966.5,822.9 966.7,825.4 966.9,827.9 967.1,830.4 967.3,832.9 967.4,835.4 967.6,837.9 967.8,840.4 968,842.9 968.2,845.4 968.4,847.9 968.6,850.4 968.7,852.8 968.9,855.3 969.1,857.8 969.3,860.3 969.5,862.8 969.7,865.3 969.9,867.8 970.1,870.3 970.2,872.8 970.4,875.3 970.6,877.8 970.8,880.3 971,882.8 971.2,885.3 971.4,887.8 971.6,890.3 971.7,892.8 971.9,895.3 972.1,897.8 972.3,900.3 972.5,902.8 972.7,905.3 972.9,907.8 973.1,910.3 973.3,912.8 973.5,915.3 973.7,917.8 973.9,920.2 974.1,922.7 974.3,925.2 974.4,927.7 974.6,930.2 974.8,932.7 975,935.2 975.2,937.7 975.4,940.2 975.6,942.7 975.9,945.2 976.1,947.7 976.3,950.2 976.5,952.7 976.7,955.2 977,957.7 977.2,960.2 977.5,962.7 977.7,965.1 978,967.6 978.2,970.1 978.5,972.6 978.7,975.1 979,977.6 979.3,980.1 979.6,982.6 979.8,985.1 980.1,987.6 980.4,990 980.6,992.5 980.9,995 981.2,997.5 981.4,1000 981.7,1002.5 981.9,1005 982.2,1007.5 982.4,1010 982.7,1012.4 982.9,1014.9 983.2,1017.4 983.4,1019.9 983.7,1022.4 983.9,1024.9 984.2,1027.4 984.4,1029.9 984.7,1032.4 984.9,1034.9 985.2,1037.4 985.4,1039.8 985.7,1042.3 985.9,1044.8 986.2,1047.3 986.4,1049.8 986.7,1052.3 986.9,1054.8 987.2,1057.3 987.4,1059.8 987.7,1062.3 988.1,1064.7 988.4,1067.2 988.8,1069.7 989.2,1072.1 989.7,1074.6 990.1,1077 990.6,1079.5 991.2,1081.9 991.7,1084.4 992.2,1086.8 992.8,1089.3 993.4,1091.7 994,1094.2 994.6,1096.6 995.2,1099.1 995.8,1101.5 996.4,1104 997.1,1106.4 998,1108.8 998.9,1111.1 1000,1113.5 1001.2,1115.7 1002.5,1117.9 1003.9,1120 1005.4,1122.1 1006.9,1124.1 1008.5,1125.9 1010.3,1127.7 1012.6,1128.4 1015.4,1128.1 1018.2,1127 1020.6,1125.3 1022.2,1123.2 1023.7,1121.1 1025.1,1119 1026.5,1116.9 1027.8,1114.8 1029,1112.6 1030.2,1110.4 1031.3,1108.2 1032.4,1105.9 1033.3,1103.6 1034.3,1101.3 1035.2,1099 1036.1,1096.6 1037,1094.3 1038,1092 1038.9,1089.6 1039.8,1087.3 1040.6,1085 1041.5,1082.6 1042.3,1080.2 1043.1,1077.9 1043.9,1075.5 1044.6,1073.1 1045.3,1070.7 1046,1068.3 1046.6,1065.9 1047.3,1063.4 1047.9,1061 1048.6,1058.6 1049.2,1056.2 1049.9,1053.8 1050.5,1051.3 1051.1,1048.9 1051.7,1046.5 1052.3,1044 1052.9,1041.6 1053.4,1039.2 1054,1036.7 1054.5,1034.3 1055,1031.8 1055.5,1029.4 1056.1,1026.9 1056.6,1024.5 1057.1,1022 1057.6,1019.6 1058.1,1017.1 1058.7,1014.7 1059.2,1012.2 1059.7,1009.8 1060.2,1007.4 1060.7,1004.9 1061.3,1002.5 1061.8,1000 1062.3,997.6 1062.8,995.1 1063.4,992.7 1063.9,990.2 1064.4,987.8 1064.9,985.3 1065.4,982.9 1066,980.4 1066.5,978 1067,975.5 1067.5,973.1 1068.1,970.6 1068.6,968.2 1069.1,965.7 1069.6,963.3 1070.1,960.8 1070.7,958.4 1071.2,955.9 1071.7,953.5 1072.2,951 1072.8,948.6 1073.3,946.2 1073.9,943.8 1074.6,941.5 1075.3,939.2 1076.2,936.8 1077.3,934.5 1078.5,932.2 1080,929.8 1081.7,927.6 1083.6,925.7 1085.5,924.8 1087.5,925 1089.6,926.1 1091.6,927.8 1093.6,929.9 1095.4,932.3 1096.9,934.7 1098.2,937 1099.2,939.4 1100.1,941.8 1100.8,944.1 1101.4,946.5 1102,948.9 1102.4,951.3 1102.9,953.7 1103.4,956.1 1103.9,958.6 1104.4,961 1104.9,963.5 1105.5,965.9 1106,968.4 1106.5,970.8 1107.1,973.3 1107.6,975.7 1108.1,978.2 1108.6,980.6 1109.1,983.1 1109.6,985.5 1110.1,988 1110.5,990.5 1111,992.9 1111.5,995.4 1111.9,997.8 1112.3,1000.3 1112.8,1002.8 1113.2,1005.2 1113.7,1007.7 1114.1,1010.2 1114.5,1012.6 1115,1015.1 1115.4,1017.6 1115.8,1020 1116.3,1022.5 1116.7,1025 1117.2,1027.4 1117.6,1029.9 1118.1,1032.3 1118.5,1034.8 1119,1037.3 1119.4,1039.7 1119.9,1042.2 1120.4,1044.6 1120.9,1047.1 1121.3,1049.6 1121.8,1052 1122.3,1054.5 1122.8,1056.9 1123.2,1059.4 1123.7,1061.8 1124.2,1064.3 1124.7,1066.8 1125.1,1069.2 1125.6,1071.7 1126,1074.1 1126.5,1076.6 1126.9,1079.1 1127.4,1081.5 1127.8,1084 1128.2,1086.5 1128.6,1088.9 1129,1091.4 1129.4,1093.9 1129.8,1096.4 1130.2,1098.8 1130.6,1101.3 1131,1103.8 1131.4,1106.2 1131.8,1108.7 1132.2,1111.2 1132.6,1113.7 1133.1,1116.1 1133.5,1118.6 1133.9,1121.1 1134.4,1123.5 1134.9,1126 1135.4,1128.4 1135.8,1130.9 1136.4,1133.3 1136.9,1135.8 1137.4,1138.2 1137.9,1140.7 1138.4,1143.1 1139,1145.6 1139.5,1148 1140,1150.5 1140.6,1152.9 1141.1,1155.4 1141.7,1157.8 1142.2,1160.2 1142.8,1162.7 1143.4,1165.1 1144,1167.5 1144.6,1170 1145.3,1172.4 1145.9,1174.8 1146.6,1177.2 1147.4,1179.6 1148.1,1182 1149,1184.4 1149.8,1186.7 1150.7,1189.1 1151.6,1191.4 1152.6,1193.7 1153.5,1196 1154.5,1198.3 1155.6,1200.6 1156.6,1202.9 1157.7,1205.2 1158.7,1207.4 1159.8,1209.7 1160.9,1211.9 1162,1214.2 1163.1,1216.4 1164.2,1218.7 1165.4,1220.9 1166.5,1223.1 1167.7,1225.3 1168.8,1227.6 1170,1229.8 1171.1,1232 1172.2,1234.3 1173.2,1236.6 1174.2,1238.8 1175.3,1241.1 1176.3,1243.4 1177.3,1245.7 1178.3,1248 1179.3,1250.3 1180.3,1252.6 1181.3,1254.9 1182.3,1257.2 1183.4,1259.4 1184.4,1261.7 1185.4,1264 1186.4,1266.3 1187.4,1268.6 1188.4,1270.9 1189.5,1273.2 1190.5,1275.5 1191.5,1277.7 1192.5,1280 1193.5,1282.3 1194.6,1284.6 1195.6,1286.9 1196.6,1289.2 1197.7,1291.4 1198.7,1293.7 1199.9,1295.9 1201.1,1298 1202.5,1300.1 1204.1,1302.3 1205.9,1304.5 1207.9,1306.5 1210,1308.1 1212.3,1309.3 1214.7,1310.1 1217.2,1310.7 1219.7,1311 1222.2,1311.3 1224.7,1311.5 1227.2,1311.7 1229.7,1311.9 1232.2,1312.1 1234.7,1312.2 1237.2,1312.3 1239.7,1312.3 1242.2,1312.3 1244.7,1312.3 1247.2,1312.3 1249.7,1312.3 1252.2,1312.3 1254.7,1312.3 1257.2,1312.3 1259.7,1312.3 1262.2,1312.3 1264.7,1312.3 1267.2,1312.3 1269.7,1312.3 1272.2,1312.3 1274.7,1312.3 1277.2,1312.3 1279.7,1312.3 1282.2,1312.3 1284.7,1312.3 1287.2,1312.3 1289.7,1312.3 1292.2,1312.3 1294.7,1312.3 1297.2,1312.3 1299.8,1312.3 1302.3,1312.3 1304.8,1312.3 1307.3,1312.3 1309.8,1312.3 1312.3,1312.3 1314.8,1312.3 1317.3,1312.3 1319.8,1312.3 1322.3,1312.3 1324.8,1312.3 1327.3,1312.3 1329.8,1312.3 1332.3,1312.3 1334.8,1312.3 1337.3,1312.3 1339.8,1312.3 1342.3,1312.3 1344.8,1312.3 1347.3,1312.3 1349.8,1312.3 1352.3,1312.3 1354.8,1312.3 1357.3,1312.3 1359.8,1312.3 1362.3,1312.3 1364.8,1312.3 1367.3,1312.3 1369.8,1312.3 1372.3,1312.3 1374.9,1312.3 1377.4,1312.3 1379.9,1312.3 1382.4,1312.3 1384.9,1312.3 1387.4,1312.3 1389.9,1312.3 1392.4,1312.3 1394.9,1312.3 1397.4,1312.3 1399.9,1312.3 1402.4,1312.3 1404.9,1312.3 1407.4,1312.2 1409.9,1312.2 1412.4,1312.2 1414.9,1312.2 1417.4,1312.2 1419.9,1312.2 1422.4,1312.2 1424.9,1312.2 1427.4,1312.2 1429.9,1312.2 1432.4,1312.1 1434.9,1312.1 1437.4,1312.1 1439.9,1311.9 1442.2,1310.9 1444.2,1309 1446,1306.6 1447.4,1304.2 1448.7,1301.7 1450,1299.3 1451.2,1297.1 1452.4,1294.9 1453.6,1292.8 1454.8,1290.6 1456.1,1288.5 1457.4,1286.3 1458.7,1284.2 1460,1282.1 1461.4,1279.9 1462.7,1277.8 1464,1275.7 1465.3,1273.6 1466.7,1271.5 1468.1,1269.4 1469.5,1267.3 1470.9,1265.3 1472.4,1263.2 1473.8,1261.2 1475.3,1259.2 1476.9,1257.2 1478.4,1255.2 1480,1253 1481.7,1250.9 1483.5,1248.9 1485.3,1247.2 1487.2,1245.9 1489.2,1245 1491.4,1245.2 1493.8,1246.3 1496.1,1247.9 1498.3,1249.7 1500.3,1251.4 1502.3,1253 1504.2,1254.6 1506.1,1256.2 1508,1257.8 1509.9,1259.4 1511.8,1261 1513.8,1262.5 1515.7,1264.1 1517.7,1265.7 1519.6,1267.3 1521.5,1268.9 1523.5,1270.4 1525.5,1271.9 1527.6,1273.3 1529.7,1274.7 1531.9,1275.9 1534.1,1277.1 1536.4,1278.2 1538.6,1279.2 1540.9,1280.2 1543.2,1281.2 1545.5,1282.3 1547.8,1283.4 1550,1284.5 1552.3,1285.6 1554.6,1286.6 1556.9,1287.5 1559.3,1288.3 1561.7,1289 1564.2,1289.5 1566.6,1289.9 1569.1,1290.2 1571.6,1290.6 1574.1,1290.8 1576.6,1291.1 1579.1,1291.5 1581.5,1291.7 1584,1291.9 1586.5,1292.1 1589,1292.4 1591.5,1292.8 1594,1293.2 1596.3,1294.1 1598.6,1295.1 1600.8,1296.4 1602.9,1297.7 1605.1,1299 1607.2,1300.4 1609.2,1302.3 1611.1,1304.4 1613,1306.5 1615,1308.4 1617.1,1309.9 1619.3,1310.7 1621.8,1310.8 1624.3,1310.7 1626.8,1310.5 1629.2,1310.2 1631.7,1309.9 1634.2,1309.4 1636.7,1309 1639.2,1308.6 1641.7,1308.2 1644.2,1308 1646.7,1307.8 1649.2,1307.6 1651.7,1307.4 1654.2,1307.2 1656.7,1306.9 1659.2,1306.7 1661.7,1306.5 1664.2,1306.3 1666.7,1306.1 1669.2,1306 1671.7,1305.9 1674.2,1305.7 1676.7,1305.7 1679.2,1305.6 1681.7,1305.6 1684.2,1305.6 1686.7,1305.7 1689.2,1305.7 1691.7,1305.8 1694.2,1305.9 1696.7,1306 1699.2,1306.1 1701.7,1306.2 1704.2,1306.3 1706.7,1306.5 1709.2,1306.6 1711.7,1306.7 1714.2,1306.8 1716.7,1307 1719.2,1307.1 1721.7,1307.1 1724.2,1307.2 1726.8,1307.3 1729.3,1307.3 1731.8,1307.3 1734.3,1307.3 1736.8,1307.3 1739.3,1307.3 1741.8,1307.3 1744.3,1307.3 1746.8,1307.3 1749.3,1307.2 1751.8,1307.2 1754.3,1307.1 1756.8,1307.1 1759.3,1307.1 1761.8,1307 1764.3,1307 1766.8,1306.9 1769.3,1306.9 1771.8,1306.8 1774.3,1306.8 1776.8,1306.8 1779.3,1306.8 1781.8,1306.7 1784.3,1306.7 1786.8,1306.7 1789.3,1306.7 1791.8,1306.7 1794.3,1306.7 1796.8,1306.8 1799.3,1306.8 1801.9,1306.8 1804.4,1306.9 1806.9,1306.9 1809.4,1307 1811.9,1307 1814.4,1307.1 1816.9,1307.1 1819.4,1307.2 1821.9,1307.3 1824.4,1307.3 1826.9,1307.4 1829.4,1307.4 1831.9,1307.5 1834.4,1307.6 1836.9,1307.7 1839.4,1307.7 1841.9,1307.8 1844.4,1307.9 1846.9,1308 1849.4,1308.1 1851.9,1308.2 1854.4,1308.3 1856.9,1308.4 1859.4,1308.5 1861.9,1308.6 1864.4,1308.7 1866.9,1308.8 1869.4,1308.9 1871.9,1309.1 1874.4,1309.2 1876.9,1309.3 1879.4,1309.5 1881.9,1309.6 1884.4,1309.8 1886.9,1309.9 1889.4,1310 1891.9,1310.2 1894.4,1310.3 1896.9,1310.4 1899.4,1310.6 1901.9,1310.7 1904.4,1310.8 1906.9,1310.9 1909.4,1311 1911.9,1311.1 1914.4,1311.2 1916.9,1311.3 1919.4,1311.4 1921.9,1311.4 1924.4,1311.5 1926.9,1311.6 1929.4,1311.7 1931.9,1311.7 1934.5,1311.8 1937,1311.9 1939.5,1312 1942,1312 1944.5,1312.1 1947,1312.2 1949.5,1312.2 1952,1312.3 1954.5,1312.3 1957,1312.4 1959.5,1312.5 1962,1312.5 1964.5,1312.6 1967,1312.6 1969.5,1312.6 1972,1312.6 1974.5,1312.6 1977,1312.6"/>
</g>
<g font-size="49" transform="scale(1,1.045)">
<text x="257" y="1270.1" text-anchor="end">0.00</text>
<text x="257" y="1118.2" text-anchor="end">0.05</text>
<text x="257" y="966.3" text-anchor="end">0.10</text>
<text x="257" y="814.4" text-anchor="end">0.15</text>
<text x="257" y="662.5" text-anchor="end">0.20</text>
<text x="257" y="510.5" text-anchor="end">0.25</text>
<text x="257" y="358.6" text-anchor="end">0.30</text>
<text x="257" y="206.7" text-anchor="end">0.35</text>
<text x="257" y="54.8" text-anchor="end">0.40</text>
<text x="471.1" y="1333" text-anchor="middle">0.01</text>
<text x="802.4" y="1333" text-anchor="middle">0.1</text>
<text x="1133.7" y="1333" text-anchor="middle">1</text>
<text x="1465" y="1333" text-anchor="middle">10</text>
<text x="1796.3" y="1333" text-anchor="middle">100</text>
</g>
<text transform="scale(1,1.04)" x="1147.3" y="1433" font-size="60.15" text-anchor="middle">Pore size Diameter (μm)</text>
<text transform="translate(69.0,675.9) rotate(-90) scale(1,1.04)" font-size="60.5" text-anchor="middle">Log Differential Intrusion (mL/g)</text>
<text class="cap" transform="translate(1013.5,1650.2) scale(0.85,1)" text-anchor="end" font-size="73">(</text>
<text class="cap" x="1014" y="1648.8" font-size="72" font-weight="bold">a</text>
<text class="cap" transform="translate(1049.9,1650.2) scale(0.85,1)" font-size="73">)</text>
<rect x="1563" y="93.2" width="398.7" height="367.2" fill="#000"/>
<rect x="1544.3" y="74.5" width="399.1" height="367.5" fill="#fff" stroke="#6e6e6e" stroke-width="2"/>
<g class="cv">
<path stroke="#ff0000" stroke-width="4.9" stroke-dasharray="19 24.5" d="M1548.5,112.2H1683.2"/>
<path stroke="#008000" stroke-width="5.2" stroke-dasharray="15.5 15.5 2 15.5 2 15" d="M1548.5,186.9H1683.2"/>
<path stroke="#0000ff" stroke-width="5.4" d="M1548.5,260.7H1683.2"/>
<path stroke="#000000" stroke-width="5.2" stroke-dasharray="2.6 23.4" d="M1548.5,335.0H1683.2"/>
<path stroke="#ff00ff" stroke-width="4.9" stroke-dasharray="6.2 13.6" d="M1548.5,409.0H1683.2"/>
</g>
<g font-size="60" text-anchor="end" transform="scale(1,1.04)">
<text x="1925.5" y="127.9">2% MS</text>
<text x="1925.5" y="199.5">4% MS</text>
<text x="1925.5" y="271.1">6% MS</text>
<text x="1925.5" y="342.6">8% MS</text>
<text x="1925.5" y="414.2">10% MS</text>
</g>
</svg></body></html>
